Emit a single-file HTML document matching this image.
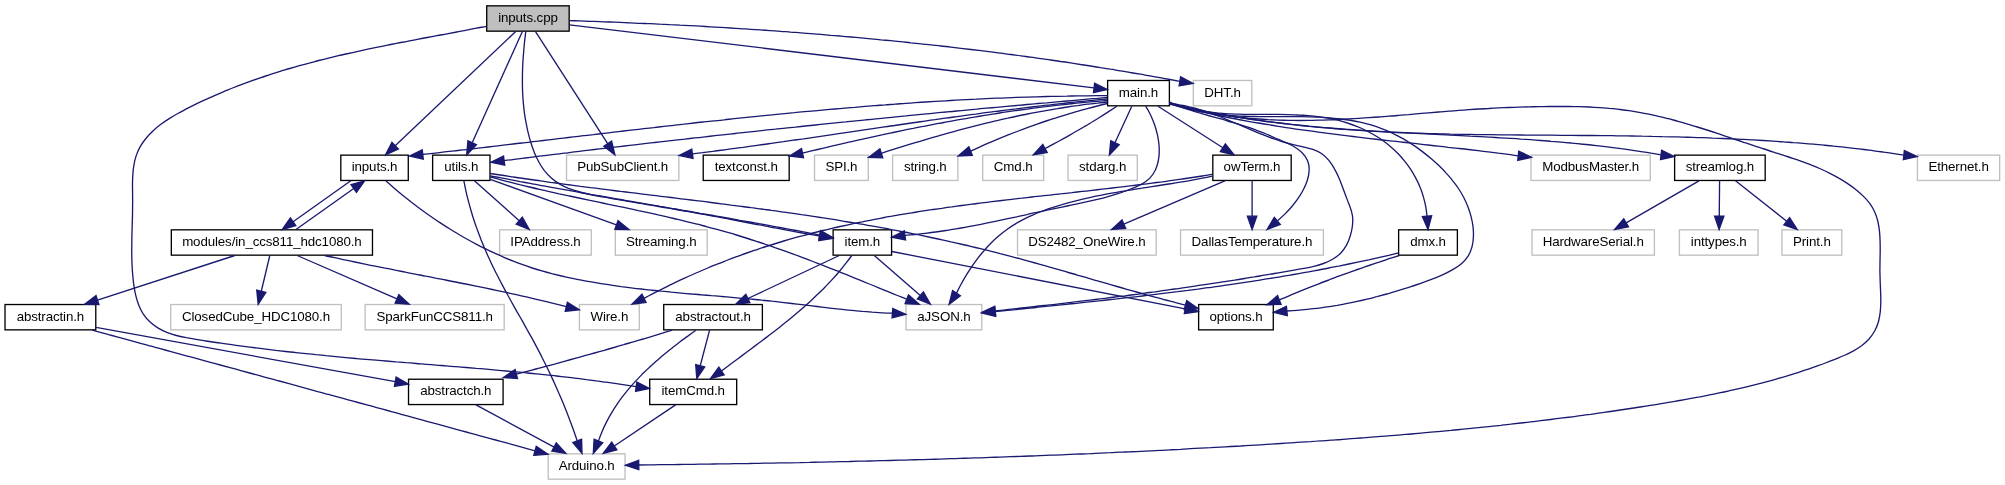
<!DOCTYPE html>
<html><head><meta charset="utf-8"><title>inputs.cpp</title>
<style>html,body{margin:0;padding:0;background:#fff}svg{display:block;will-change:transform}text{font-family:"Liberation Sans",Helvetica,Arial,sans-serif;font-size:13.33px;fill:#000;text-anchor:middle;letter-spacing:-0.12px}.e{fill:none;stroke:#191970;stroke-width:1.33}.a{fill:#191970;stroke:#191970;stroke-width:1.33}.n{stroke-width:1.33}</style></head>
<body>
<svg width="2005" height="485" viewBox="0 0 2005 485">
<rect width="2005" height="485" fill="#fff"/>
<rect class="n" x="486.72" y="5.83" width="82.46" height="25.33" fill="#bfbfbf" stroke="#000"/>
<text x="527.95" y="22.00">inputs.cpp</text>
<rect class="n" x="1107.62" y="80.48" width="61.76" height="25.33" fill="#fff" stroke="#000"/>
<text x="1138.50" y="96.65">main.h</text>
<rect class="n" x="1193.32" y="80.48" width="58.46" height="25.33" fill="#fff" stroke="#bfbfbf"/>
<text x="1222.55" y="96.65">DHT.h</text>
<rect class="n" x="340.82" y="155.13" width="67.46" height="25.33" fill="#fff" stroke="#000"/>
<text x="374.55" y="171.30">inputs.h</text>
<rect class="n" x="432.62" y="155.13" width="57.36" height="25.33" fill="#fff" stroke="#000"/>
<text x="461.30" y="171.30">utils.h</text>
<rect class="n" x="566.52" y="155.13" width="112.36" height="25.33" fill="#fff" stroke="#bfbfbf"/>
<text x="622.70" y="171.30">PubSubClient.h</text>
<rect class="n" x="703.22" y="155.13" width="85.96" height="25.33" fill="#fff" stroke="#000"/>
<text x="746.20" y="171.30">textconst.h</text>
<rect class="n" x="814.52" y="155.13" width="53.76" height="25.33" fill="#fff" stroke="#bfbfbf"/>
<text x="841.40" y="171.30">SPI.h</text>
<rect class="n" x="892.62" y="155.13" width="65.26" height="25.33" fill="#fff" stroke="#bfbfbf"/>
<text x="925.25" y="171.30">string.h</text>
<rect class="n" x="982.72" y="155.13" width="60.96" height="25.33" fill="#fff" stroke="#bfbfbf"/>
<text x="1013.20" y="171.30">Cmd.h</text>
<rect class="n" x="1068.02" y="155.13" width="69.26" height="25.33" fill="#fff" stroke="#bfbfbf"/>
<text x="1102.65" y="171.30">stdarg.h</text>
<rect class="n" x="1212.82" y="155.13" width="78.36" height="25.33" fill="#fff" stroke="#000"/>
<text x="1252.00" y="171.30">owTerm.h</text>
<rect class="n" x="1531.02" y="155.13" width="119.26" height="25.33" fill="#fff" stroke="#bfbfbf"/>
<text x="1590.65" y="171.30">ModbusMaster.h</text>
<rect class="n" x="1674.62" y="155.13" width="90.56" height="25.33" fill="#fff" stroke="#000"/>
<text x="1719.90" y="171.30">streamlog.h</text>
<rect class="n" x="1917.42" y="155.13" width="82.26" height="25.33" fill="#fff" stroke="#bfbfbf"/>
<text x="1958.55" y="171.30">Ethernet.h</text>
<rect class="n" x="171.32" y="229.83" width="201.16" height="25.33" fill="#fff" stroke="#000"/>
<text x="271.90" y="246.00">modules/in_ccs811_hdc1080.h</text>
<rect class="n" x="499.62" y="229.83" width="91.66" height="25.33" fill="#fff" stroke="#bfbfbf"/>
<text x="545.45" y="246.00">IPAddress.h</text>
<rect class="n" x="615.32" y="229.83" width="91.86" height="25.33" fill="#fff" stroke="#bfbfbf"/>
<text x="661.25" y="246.00">Streaming.h</text>
<rect class="n" x="833.12" y="229.83" width="58.46" height="25.33" fill="#fff" stroke="#000"/>
<text x="862.35" y="246.00">item.h</text>
<rect class="n" x="1017.52" y="229.83" width="138.66" height="25.33" fill="#fff" stroke="#bfbfbf"/>
<text x="1086.85" y="246.00">DS2482_OneWire.h</text>
<rect class="n" x="1180.52" y="229.83" width="142.86" height="25.33" fill="#fff" stroke="#bfbfbf"/>
<text x="1251.95" y="246.00">DallasTemperature.h</text>
<rect class="n" x="1398.62" y="229.83" width="58.76" height="25.33" fill="#fff" stroke="#000"/>
<text x="1428.00" y="246.00">dmx.h</text>
<rect class="n" x="1532.02" y="229.83" width="122.36" height="25.33" fill="#fff" stroke="#bfbfbf"/>
<text x="1593.20" y="246.00">HardwareSerial.h</text>
<rect class="n" x="1679.42" y="229.83" width="78.66" height="25.33" fill="#fff" stroke="#bfbfbf"/>
<text x="1718.75" y="246.00">inttypes.h</text>
<rect class="n" x="1781.92" y="229.83" width="59.86" height="25.33" fill="#fff" stroke="#bfbfbf"/>
<text x="1811.85" y="246.00">Print.h</text>
<rect class="n" x="5.02" y="304.53" width="90.76" height="25.33" fill="#fff" stroke="#000"/>
<text x="50.40" y="320.70">abstractin.h</text>
<rect class="n" x="170.72" y="304.53" width="170.56" height="25.33" fill="#fff" stroke="#bfbfbf"/>
<text x="256.00" y="320.70">ClosedCube_HDC1080.h</text>
<rect class="n" x="365.12" y="304.53" width="139.06" height="25.33" fill="#fff" stroke="#bfbfbf"/>
<text x="434.65" y="320.70">SparkFunCCS811.h</text>
<rect class="n" x="579.42" y="304.53" width="59.86" height="25.33" fill="#fff" stroke="#bfbfbf"/>
<text x="609.35" y="320.70">Wire.h</text>
<rect class="n" x="663.72" y="304.53" width="98.66" height="25.33" fill="#fff" stroke="#000"/>
<text x="713.05" y="320.70">abstractout.h</text>
<rect class="n" x="906.02" y="304.53" width="75.76" height="25.33" fill="#fff" stroke="#bfbfbf"/>
<text x="943.90" y="320.70">aJSON.h</text>
<rect class="n" x="1198.62" y="304.53" width="74.66" height="25.33" fill="#fff" stroke="#000"/>
<text x="1235.95" y="320.70">options.h</text>
<rect class="n" x="408.52" y="379.23" width="94.56" height="25.33" fill="#fff" stroke="#000"/>
<text x="455.80" y="395.40">abstractch.h</text>
<rect class="n" x="649.72" y="379.23" width="86.96" height="25.33" fill="#fff" stroke="#000"/>
<text x="693.20" y="395.40">itemCmd.h</text>
<rect class="n" x="548.22" y="453.83" width="76.86" height="25.33" fill="#fff" stroke="#bfbfbf"/>
<text x="586.65" y="470.00">Arduino.h</text>
<path class="e" d="M516.00,31.20L395.18,145.73"/>
<polygon class="a" points="391.97,142.34 385.50,154.90 398.39,149.11"/>
<path class="e" d="M522.50,31.20L472.18,142.75"/>
<polygon class="a" points="467.93,140.83 466.70,154.90 476.44,144.66"/>
<path class="e" d="M535.20,31.20L607.68,143.69"/>
<polygon class="a" points="603.76,146.22 614.90,154.90 611.60,141.16"/>
<path class="e" d="M525.8,31.2C525.4,34.6 525.0,38.0 524.6,41.4C524.3,44.7 523.9,48.1 523.7,51.5C523.4,54.9 523.1,58.3 522.9,61.8C522.7,65.2 522.6,68.6 522.5,72.0C522.4,75.4 522.4,78.8 522.4,82.2C522.4,85.6 522.5,89.0 522.6,92.4C522.8,95.8 523.0,99.2 523.3,102.6C523.6,106.0 524.0,109.4 524.4,112.8C524.9,116.2 525.4,119.6 526.1,122.9C526.7,126.3 527.4,129.6 528.2,132.9C529.0,136.2 529.9,139.5 530.9,142.8C531.9,146.1 533.1,149.3 534.3,152.4C535.6,155.6 537.1,158.7 538.7,161.7C540.3,164.7 542.2,167.6 544.2,170.3C546.3,173.0 548.5,175.6 551.1,177.8C553.6,180.1 556.3,182.1 559.3,183.8C562.2,185.5 565.3,187.0 568.5,188.3C571.7,189.5 574.9,190.6 578.2,191.5C581.5,192.4 584.8,193.2 588.2,194.0C591.5,194.7 594.9,195.4 598.2,196.0C601.6,196.6 604.9,197.3 608.3,197.9C611.6,198.5 615.0,199.1 618.3,199.7C621.7,200.3 625.1,200.9 628.4,201.4C631.8,202.0 635.2,202.6 638.5,203.2C641.9,203.7 645.2,204.3 648.6,204.9C652.0,205.4 655.3,206.0 658.7,206.5C662.0,207.1 665.4,207.7 668.8,208.2C672.1,208.8 675.5,209.4 678.9,210.0C682.2,210.5 685.6,211.1 688.9,211.7C692.3,212.3 695.6,212.9 699.0,213.5C702.4,214.1 705.7,214.7 709.1,215.3C712.4,216.0 715.8,216.6 719.1,217.2C722.5,217.8 725.8,218.5 729.2,219.1C732.5,219.8 735.9,220.4 739.2,221.0C742.6,221.7 745.9,222.3 749.3,223.0C752.6,223.6 756.0,224.2 759.3,224.9C762.7,225.5 766.0,226.2 769.4,226.8C772.7,227.5 776.1,228.1 779.4,228.7C782.8,229.4 786.1,230.0 789.5,230.6C792.8,231.2 796.2,231.9 799.5,232.5C802.9,233.1 806.3,233.7 809.6,234.3C813.0,234.9 816.3,235.5 819.7,236.1"/>
<polygon class="a" points="818.84,240.68 832.80,238.50 820.53,231.50"/>
<path class="e" d="M569.50,24.80L1094.06,87.91"/>
<polygon class="a" points="1093.50,92.54 1107.30,89.50 1094.62,83.27"/>
<path class="e" d="M569.5,20.6C572.9,20.7 576.2,20.8 579.6,20.9C582.9,21.0 586.3,21.2 589.6,21.3C593.0,21.4 596.3,21.5 599.7,21.6C603.0,21.8 606.4,21.9 609.7,22.0C613.1,22.1 616.4,22.3 619.8,22.4C623.1,22.5 626.5,22.7 629.8,22.8C633.2,23.0 636.6,23.1 639.9,23.3C643.3,23.4 646.6,23.6 650.0,23.7C653.3,23.9 656.7,24.0 660.0,24.2C663.4,24.3 666.7,24.5 670.1,24.7C673.4,24.8 676.8,25.0 680.1,25.2C683.5,25.3 686.8,25.5 690.2,25.7C693.5,25.9 696.9,26.1 700.2,26.2C703.6,26.4 706.9,26.6 710.3,26.8C713.6,27.0 717.0,27.2 720.3,27.4C723.7,27.6 727.0,27.8 730.4,28.0C733.7,28.2 737.1,28.4 740.4,28.6C743.8,28.8 747.1,29.1 750.5,29.3C753.8,29.5 757.1,29.7 760.5,29.9C763.8,30.2 767.2,30.4 770.5,30.6C773.9,30.9 777.2,31.1 780.6,31.3C783.9,31.6 787.3,31.8 790.6,32.1C794.0,32.3 797.3,32.6 800.7,32.8C804.0,33.1 807.3,33.4 810.7,33.6C814.0,33.9 817.4,34.2 820.7,34.4C824.1,34.7 827.4,35.0 830.7,35.3C834.1,35.5 837.4,35.8 840.8,36.1C844.1,36.4 847.5,36.7 850.8,37.0C854.1,37.3 857.5,37.6 860.8,37.9C864.2,38.2 867.5,38.5 870.9,38.8C874.2,39.1 877.5,39.4 880.9,39.8C884.2,40.1 887.6,40.4 890.9,40.7C894.2,41.1 897.6,41.4 900.9,41.7C904.2,42.1 907.6,42.4 910.9,42.8C914.3,43.1 917.6,43.5 920.9,43.8C924.3,44.2 927.6,44.5 930.9,44.9C934.3,45.3 937.6,45.6 940.9,46.0C944.3,46.4 947.6,46.7 950.9,47.1C954.3,47.5 957.6,47.9 960.9,48.3C964.3,48.7 967.6,49.1 970.9,49.5C974.3,49.9 977.6,50.3 980.9,50.7C984.3,51.1 987.6,51.5 990.9,51.9C994.2,52.4 997.6,52.8 1000.9,53.2C1004.2,53.6 1007.5,54.1 1010.9,54.5C1014.2,54.9 1017.5,55.4 1020.9,55.8C1024.2,56.3 1027.5,56.7 1030.8,57.2C1034.1,57.7 1037.5,58.1 1040.8,58.6C1044.1,59.1 1047.4,59.5 1050.8,60.0C1054.1,60.5 1057.4,61.0 1060.7,61.5C1064.0,61.9 1067.4,62.4 1070.7,62.9C1074.0,63.4 1077.3,63.9 1080.6,64.5C1083.9,65.0 1087.3,65.5 1090.6,66.0C1093.9,66.5 1097.2,67.0 1100.5,67.6C1103.8,68.1 1107.1,68.6 1110.4,69.2C1113.8,69.7 1117.1,70.3 1120.4,70.8C1123.7,71.4 1127.0,71.9 1130.3,72.5C1133.6,73.0 1136.9,73.6 1140.2,74.2C1143.5,74.8 1146.8,75.3 1150.1,75.9C1153.4,76.5 1156.7,77.1 1160.0,77.7C1163.3,78.3 1166.6,78.9 1169.9,79.5C1173.2,80.1 1176.5,80.7 1179.8,81.3"/>
<polygon class="a" points="1179.08,85.93 1193.00,83.50 1180.61,76.72"/>
<path class="e" d="M486.4,26.3C483.1,26.9 479.8,27.6 476.5,28.2C473.2,28.9 469.9,29.5 466.6,30.1C463.3,30.7 460.0,31.4 456.8,32.0C453.5,32.6 450.2,33.2 446.9,33.8C443.6,34.4 440.3,35.1 437.0,35.7C433.7,36.3 430.4,36.9 427.1,37.5C423.8,38.2 420.5,38.8 417.2,39.4C413.9,40.0 410.6,40.7 407.3,41.3C404.0,41.9 400.7,42.6 397.4,43.2C394.1,43.8 390.8,44.5 387.6,45.1C384.3,45.8 381.0,46.5 377.7,47.1C374.4,47.8 371.1,48.5 367.8,49.2C364.6,49.9 361.3,50.6 358.0,51.3C354.7,52.0 351.5,52.7 348.2,53.5C344.9,54.2 341.6,55.0 338.4,55.7C335.1,56.5 331.8,57.3 328.6,58.1C325.3,58.9 322.1,59.7 318.8,60.5C315.6,61.4 312.3,62.2 309.1,63.1C305.9,63.9 302.6,64.8 299.4,65.7C296.2,66.6 292.9,67.6 289.7,68.5C286.5,69.5 283.3,70.4 280.1,71.4C276.9,72.4 273.7,73.4 270.5,74.4C267.3,75.5 264.1,76.5 260.9,77.6C257.8,78.7 254.6,79.8 251.4,80.9C248.3,82.1 245.1,83.2 242.0,84.4C238.9,85.6 235.7,86.8 232.6,88.0C229.5,89.3 226.4,90.5 223.3,91.8C220.2,93.1 217.1,94.4 214.0,95.8C211.0,97.1 207.9,98.5 204.9,99.9C201.8,101.3 198.8,102.8 195.8,104.2C192.8,105.7 189.8,107.2 186.8,108.7C183.8,110.3 180.8,111.8 177.9,113.5C174.9,115.1 172.0,116.8 169.2,118.6C166.4,120.4 163.6,122.3 160.9,124.3C158.2,126.3 155.6,128.4 153.2,130.7C150.7,133.0 148.4,135.4 146.3,138.0C144.1,140.6 142.2,143.3 140.5,146.2C138.8,149.1 137.4,152.2 136.3,155.4C135.2,158.5 134.5,161.8 133.9,165.1C133.3,168.4 133.0,171.7 132.8,175.1C132.6,178.4 132.5,181.8 132.5,185.2C132.5,188.5 132.6,191.9 132.6,195.2C132.6,198.6 132.7,202.0 132.6,205.3C132.6,208.7 132.5,212.0 132.5,215.4C132.4,218.7 132.3,222.1 132.2,225.4C132.1,228.8 132.0,232.1 131.9,235.5C131.9,238.8 131.8,242.2 131.8,245.5C131.7,248.9 131.7,252.2 131.8,255.6C131.8,258.9 131.9,262.3 132.1,265.7C132.2,269.0 132.5,272.3 132.8,275.7C133.1,279.0 133.4,282.4 133.9,285.7C134.4,289.0 135.0,292.3 135.8,295.6C136.6,298.9 137.6,302.1 138.8,305.2C140.0,308.3 141.5,311.3 143.3,314.1C145.2,316.9 147.3,319.5 149.8,321.8C152.2,324.1 154.9,326.1 157.8,327.9C160.6,329.6 163.7,331.1 166.8,332.3C169.9,333.5 173.1,334.6 176.4,335.5C179.6,336.3 182.9,337.0 186.2,337.7C189.5,338.3 192.8,338.9 196.1,339.4C199.4,340.0 202.8,340.5 206.0,341.0C209.4,341.5 212.7,342.0 216.0,342.5C219.3,343.0 222.7,343.4 226.0,343.9C229.3,344.4 232.6,344.9 235.9,345.3C239.3,345.8 242.6,346.2 245.9,346.6C249.2,347.1 252.6,347.5 255.9,347.9C259.2,348.4 262.5,348.8 265.9,349.2C269.2,349.6 272.5,350.0 275.8,350.4C279.2,350.7 282.5,351.1 285.8,351.5C289.2,351.9 292.5,352.2 295.8,352.6C299.2,353.0 302.5,353.3 305.9,353.7C309.2,354.0 312.5,354.3 315.9,354.7C319.2,355.0 322.5,355.3 325.9,355.7C329.2,356.0 332.6,356.3 335.9,356.6C339.2,356.9 342.6,357.3 345.9,357.6C349.3,357.9 352.6,358.2 355.9,358.5C359.3,358.8 362.6,359.1 366.0,359.3C369.3,359.6 372.6,359.9 376.0,360.2C379.3,360.5 382.7,360.8 386.0,361.0C389.4,361.3 392.7,361.6 396.0,361.9C399.4,362.1 402.7,362.4 406.1,362.7C409.4,362.9 412.8,363.2 416.1,363.5C419.4,363.8 422.8,364.0 426.1,364.3C429.5,364.6 432.8,364.8 436.2,365.1C439.5,365.4 442.8,365.6 446.2,365.9C449.5,366.2 452.9,366.4 456.2,366.7C459.6,367.0 462.9,367.2 466.3,367.5C469.6,367.8 472.9,368.1 476.3,368.4C479.6,368.6 483.0,368.9 486.3,369.2C489.6,369.5 493.0,369.8 496.3,370.1C499.7,370.4 503.0,370.7 506.4,371.0C509.7,371.3 513.0,371.6 516.4,371.9C519.7,372.2 523.0,372.5 526.4,372.9C529.7,373.2 533.1,373.5 536.4,373.9C539.7,374.2 543.1,374.6 546.4,374.9C549.7,375.3 553.1,375.6 556.4,376.0C559.7,376.4 563.1,376.7 566.4,377.1C569.7,377.5 573.1,377.9 576.4,378.3C579.7,378.7 583.1,379.1 586.4,379.6C589.7,380.0 593.0,380.4 596.4,380.9C599.7,381.3 603.0,381.8 606.3,382.2C609.7,382.7 613.0,383.2 616.3,383.7C619.6,384.2 622.9,384.7 626.2,385.2C629.6,385.7 632.9,386.2 636.2,386.7"/>
<polygon class="a" points="635.57,391.36 649.40,388.50 636.80,382.11"/>
<path class="e" d="M350.80,180.80L293.07,221.78"/>
<polygon class="a" points="290.37,217.98 282.20,229.50 295.77,225.59"/>
<path class="e" d="M296.00,229.50L353.73,188.52"/>
<polygon class="a" points="356.43,192.32 364.60,180.80 351.03,184.71"/>
<path class="e" d="M385.8,180.8C388.3,183.0 390.8,185.3 393.4,187.5C395.9,189.7 398.5,191.8 401.1,194.0C403.7,196.1 406.3,198.2 409.0,200.3C411.6,202.4 414.3,204.4 417.0,206.5C419.7,208.5 422.4,210.5 425.1,212.5C427.8,214.4 430.6,216.4 433.4,218.3C436.1,220.2 438.9,222.0 441.8,223.9C444.6,225.7 447.4,227.5 450.3,229.3C453.1,231.1 456.0,232.8 458.9,234.5C461.8,236.2 464.7,237.9 467.7,239.5C470.6,241.2 473.6,242.8 476.6,244.3C479.6,245.9 482.6,247.4 485.6,248.9C488.6,250.4 491.6,251.8 494.7,253.2C497.8,254.6 500.8,256.0 503.9,257.3C507.0,258.6 510.1,259.9 513.3,261.1C516.4,262.4 519.6,263.6 522.7,264.7C525.9,265.8 529.1,266.9 532.3,268.0C535.5,269.0 538.7,270.0 541.9,270.9C545.2,271.8 548.4,272.7 551.7,273.6C554.9,274.4 558.2,275.2 561.5,276.0C564.8,276.7 568.1,277.5 571.3,278.1C574.6,278.8 577.9,279.5 581.3,280.1C584.6,280.8 587.9,281.4 591.2,281.9C594.5,282.5 597.8,283.1 601.1,283.6C604.5,284.1 607.8,284.7 611.1,285.1C614.5,285.6 617.8,286.1 621.1,286.6C624.5,287.0 627.8,287.4 631.1,287.8C634.5,288.3 637.8,288.7 641.2,289.0C644.5,289.4 647.9,289.8 651.2,290.2C654.5,290.5 657.9,290.8 661.2,291.2C664.6,291.5 667.9,291.8 671.3,292.2C674.6,292.5 678.0,292.8 681.4,293.1C684.7,293.4 688.1,293.7 691.4,294.0C694.8,294.2 698.1,294.5 701.5,294.8C704.8,295.1 708.2,295.4 711.5,295.7C714.9,295.9 718.2,296.2 721.6,296.5C725.0,296.8 728.3,297.1 731.7,297.4C735.0,297.7 738.4,298.0 741.7,298.3C745.1,298.6 748.4,298.9 751.8,299.2C755.1,299.5 758.5,299.8 761.8,300.2C765.2,300.5 768.5,300.8 771.9,301.2C775.2,301.5 778.6,301.9 781.9,302.3C785.3,302.7 788.6,303.1 791.9,303.5C795.3,303.9 798.6,304.3 802.0,304.7C805.3,305.1 808.6,305.5 812.0,305.9C815.3,306.3 818.7,306.7 822.0,307.1C825.4,307.5 828.7,307.9 832.0,308.3C835.4,308.7 838.7,309.0 842.1,309.4C845.4,309.8 848.8,310.1 852.1,310.4C855.5,310.8 858.8,311.1 862.2,311.4C865.5,311.6 868.9,311.9 872.2,312.2C875.6,312.4 879.0,312.6 882.3,312.8C885.7,313.0 889.0,313.1 892.4,313.2"/>
<polygon class="a" points="892.04,317.89 905.70,314.30 892.78,308.59"/>
<path class="e" d="M234.80,255.50L97.48,300.08"/>
<polygon class="a" points="96.04,295.64 84.80,304.20 98.92,304.52"/>
<path class="e" d="M269.80,255.50L261.29,291.23"/>
<polygon class="a" points="256.75,290.15 258.20,304.20 265.83,292.31"/>
<path class="e" d="M297.20,255.50L396.97,298.88"/>
<polygon class="a" points="395.11,303.16 409.20,304.20 398.83,294.60"/>
<path class="e" d="M324.7,255.5C328.0,256.3 331.4,257.0 334.8,257.7C338.1,258.5 341.5,259.2 344.8,259.9C348.2,260.6 351.5,261.3 354.9,262.0C358.2,262.7 361.6,263.4 365.0,264.1C368.3,264.8 371.7,265.5 375.1,266.1C378.4,266.8 381.8,267.5 385.1,268.2C388.5,268.8 391.9,269.5 395.2,270.2C398.6,270.8 402.0,271.5 405.3,272.1C408.7,272.8 412.1,273.5 415.4,274.1C418.8,274.8 422.2,275.4 425.5,276.1C428.9,276.7 432.3,277.4 435.6,278.1C439.0,278.7 442.4,279.4 445.7,280.0C449.1,280.7 452.5,281.4 455.8,282.0C459.2,282.7 462.6,283.4 465.9,284.0C469.3,284.7 472.7,285.4 476.0,286.1C479.4,286.8 482.8,287.5 486.1,288.2C489.5,288.9 492.8,289.6 496.2,290.3C499.5,291.0 502.9,291.7 506.2,292.4C509.6,293.2 512.9,293.9 516.3,294.7C519.6,295.4 523.0,296.2 526.3,296.9C529.7,297.7 533.0,298.5 536.4,299.3C539.7,300.1 543.0,300.9 546.4,301.7C549.7,302.5 553.0,303.3 556.4,304.2C559.7,305.0 563.0,305.9 566.3,306.7"/>
<polygon class="a" points="565.25,311.28 579.30,309.80 567.39,302.20"/>
<path class="e" d="M96.10,327.40L395.28,381.72"/>
<polygon class="a" points="394.45,386.31 408.40,384.10 396.11,377.13"/>
<path class="e" d="M92.3,330.2C95.6,331.1 98.9,332.0 102.1,332.9C105.4,333.8 108.7,334.7 112.0,335.5C115.3,336.4 118.5,337.3 121.8,338.2C125.1,339.1 128.4,340.0 131.7,340.9C134.9,341.8 138.2,342.7 141.5,343.6C144.8,344.5 148.1,345.4 151.3,346.2C154.6,347.1 157.9,348.0 161.2,348.9C164.5,349.8 167.7,350.7 171.0,351.6C174.3,352.5 177.6,353.4 180.9,354.3C184.1,355.2 187.4,356.1 190.7,356.9C194.0,357.8 197.3,358.7 200.5,359.6C203.8,360.5 207.1,361.4 210.4,362.3C213.7,363.2 216.9,364.1 220.2,365.0C223.5,365.9 226.8,366.8 230.1,367.7C233.3,368.5 236.6,369.4 239.9,370.3C243.2,371.2 246.5,372.1 249.7,373.0C253.0,373.9 256.3,374.8 259.6,375.7C262.9,376.6 266.1,377.5 269.4,378.4C272.7,379.3 276.0,380.2 279.3,381.0C282.5,381.9 285.8,382.8 289.1,383.7C292.4,384.6 295.7,385.5 298.9,386.4C302.2,387.3 305.5,388.2 308.8,389.1C312.0,390.0 315.3,390.9 318.6,391.8C321.9,392.7 325.2,393.6 328.4,394.4C331.7,395.3 335.0,396.2 338.3,397.1C341.6,398.0 344.8,398.9 348.1,399.8C351.4,400.7 354.7,401.6 358.0,402.5C361.2,403.4 364.5,404.3 367.8,405.2C371.1,406.1 374.4,407.0 377.6,407.8C380.9,408.7 384.2,409.6 387.5,410.5C390.8,411.4 394.0,412.3 397.3,413.2C400.6,414.1 403.9,415.0 407.2,415.9C410.4,416.8 413.7,417.7 417.0,418.6C420.3,419.5 423.5,420.4 426.8,421.3C430.1,422.2 433.4,423.0 436.7,423.9C439.9,424.8 443.2,425.7 446.5,426.6C449.8,427.5 453.1,428.4 456.3,429.3C459.6,430.2 462.9,431.1 466.2,432.0C469.5,432.9 472.7,433.8 476.0,434.7C479.3,435.6 482.6,436.5 485.9,437.4C489.1,438.3 492.4,439.2 495.7,440.0C499.0,440.9 502.2,441.8 505.5,442.7C508.8,443.6 512.1,444.5 515.4,445.4C518.6,446.3 521.9,447.2 525.2,448.1C528.5,449.0 531.8,449.9 535.0,450.8"/>
<polygon class="a" points="533.81,455.29 547.90,454.30 536.27,446.29"/>
<path class="e" d="M476.00,404.90L554.07,447.06"/>
<polygon class="a" points="551.85,451.17 565.80,453.40 556.29,442.96"/>
<path class="e" d="M839.30,255.50L747.86,298.52"/>
<polygon class="a" points="745.88,294.30 735.80,304.20 749.85,302.75"/>
<path class="e" d="M851.8,255.5C849.8,258.3 847.7,261.0 845.6,263.7C843.5,266.4 841.3,269.1 839.1,271.7C836.9,274.3 834.6,276.9 832.3,279.4C830.0,281.9 827.6,284.4 825.2,286.9C822.8,289.3 820.4,291.7 817.9,294.1C815.5,296.5 813.0,298.8 810.4,301.2C807.9,303.5 805.3,305.8 802.8,308.0C800.2,310.3 797.6,312.5 794.9,314.7C792.3,316.9 789.7,319.1 787.0,321.3C784.3,323.4 781.7,325.5 779.0,327.7C776.3,329.8 773.6,331.9 770.8,334.0C768.1,336.1 765.4,338.1 762.7,340.2C759.9,342.3 757.2,344.3 754.4,346.4C751.7,348.4 748.9,350.5 746.2,352.5C743.4,354.6 740.7,356.6 737.9,358.7C735.2,360.7 732.4,362.8 729.7,364.8C726.9,366.9 724.2,369.0 721.5,371.0"/>
<polygon class="a" points="718.83,367.19 710.50,378.60 724.13,374.88"/>
<path class="e" d="M874.30,255.50L920.33,295.46"/>
<polygon class="a" points="917.27,298.98 930.40,304.20 923.39,291.94"/>
<path class="e" d="M891.90,251.50L1185.22,308.94"/>
<polygon class="a" points="1184.32,313.52 1198.30,311.50 1186.11,304.36"/>
<path class="e" d="M672.2,330.2C669.0,331.2 665.7,332.2 662.5,333.1C659.3,334.1 656.1,335.1 652.8,336.1C649.6,337.0 646.4,338.0 643.1,339.0C639.9,339.9 636.6,340.9 633.4,341.8C630.2,342.8 626.9,343.7 623.7,344.7C620.4,345.6 617.2,346.5 614.0,347.5C610.7,348.4 607.5,349.3 604.2,350.3C601.0,351.2 597.7,352.1 594.5,353.0C591.2,353.9 588.0,354.8 584.7,355.7C581.5,356.6 578.2,357.5 575.0,358.4C571.7,359.3 568.5,360.2 565.2,361.1C562.0,362.0 558.7,362.9 555.4,363.8C552.2,364.6 548.9,365.5 545.7,366.4C542.4,367.3 539.1,368.1 535.9,369.0C532.6,369.9 529.4,370.7 526.1,371.6C522.8,372.4 519.6,373.3 516.3,374.1"/>
<polygon class="a" points="515.10,369.59 503.40,377.50 517.48,378.61"/>
<path class="e" d="M695.9,330.2C693.2,332.1 690.5,334.1 687.8,336.1C685.1,338.0 682.4,340.0 679.7,342.0C677.1,344.0 674.5,346.1 671.8,348.2C669.2,350.2 666.6,352.3 664.0,354.4C661.5,356.6 658.9,358.7 656.4,360.9C653.9,363.1 651.4,365.4 649.0,367.7C646.6,369.9 644.2,372.3 641.8,374.6C639.5,377.0 637.2,379.4 634.9,381.9C632.7,384.3 630.5,386.8 628.3,389.4C626.2,392.0 624.1,394.6 622.1,397.2C620.1,399.9 618.1,402.6 616.3,405.4C614.4,408.2 612.7,411.0 611.0,413.9C609.3,416.7 607.7,419.7 606.2,422.6C604.7,425.6 603.3,428.6 602.0,431.7C600.7,434.8 599.5,437.9 598.4,441.1"/>
<polygon class="a" points="594.10,439.30 593.30,453.40 602.72,442.87"/>
<path class="e" d="M709.60,330.20L700.21,365.71"/>
<polygon class="a" points="695.70,364.52 696.80,378.60 704.72,366.90"/>
<path class="e" d="M675.60,404.90L614.28,445.98"/>
<polygon class="a" points="611.68,442.10 603.20,453.40 616.87,449.86"/>
<path class="e" d="M463.9,180.8C464.5,184.1 465.2,187.5 465.9,190.8C466.6,194.1 467.4,197.4 468.3,200.7C469.1,204.0 470.0,207.2 471.0,210.5C471.9,213.7 472.9,217.0 474.0,220.2C475.0,223.4 476.2,226.6 477.3,229.8C478.5,233.0 479.7,236.2 480.9,239.3C482.2,242.5 483.4,245.6 484.8,248.7C486.1,251.8 487.5,255.0 488.9,258.0C490.3,261.1 491.7,264.2 493.2,267.2C494.7,270.3 496.2,273.3 497.8,276.3C499.3,279.4 500.9,282.4 502.5,285.4C504.1,288.4 505.7,291.3 507.3,294.3C508.9,297.3 510.6,300.2 512.2,303.2C513.9,306.2 515.6,309.1 517.2,312.1C518.9,315.0 520.6,318.0 522.3,320.9C523.9,323.9 525.6,326.8 527.2,329.8C528.9,332.7 530.5,335.7 532.2,338.7C533.8,341.7 535.4,344.6 537.0,347.6C538.6,350.6 540.1,353.6 541.7,356.7C543.2,359.7 544.7,362.7 546.2,365.8C547.7,368.8 549.2,371.9 550.6,374.9C552.1,378.0 553.5,381.1 554.9,384.2C556.3,387.3 557.7,390.4 559.0,393.5C560.4,396.6 561.7,399.7 563.0,402.8C564.3,406.0 565.5,409.1 566.8,412.3C568.0,415.4 569.2,418.6 570.4,421.8C571.6,425.0 572.8,428.1 573.9,431.3C575.0,434.5 576.2,437.7 577.2,440.9"/>
<polygon class="a" points="572.88,442.62 582.00,453.40 581.59,439.28"/>
<path class="e" d="M474.40,180.80L519.23,220.64"/>
<polygon class="a" points="516.13,224.13 529.20,229.50 522.33,217.15"/>
<path class="e" d="M490.30,179.40L616.46,224.97"/>
<polygon class="a" points="614.87,229.36 629.00,229.50 618.05,220.58"/>
<path class="e" d="M490.3,175.8C493.6,176.5 496.9,177.1 500.3,177.7C503.6,178.4 506.9,179.0 510.2,179.7C513.5,180.3 516.9,180.9 520.2,181.6C523.5,182.2 526.8,182.8 530.1,183.4C533.5,184.0 536.8,184.7 540.1,185.3C543.4,185.9 546.8,186.5 550.1,187.1C553.4,187.7 556.7,188.3 560.1,188.9C563.4,189.5 566.7,190.1 570.1,190.7C573.4,191.3 576.7,191.9 580.0,192.5C583.4,193.1 586.7,193.7 590.0,194.3C593.4,194.8 596.7,195.4 600.0,196.0C603.3,196.6 606.7,197.2 610.0,197.7C613.3,198.3 616.7,198.9 620.0,199.5C623.3,200.1 626.7,200.6 630.0,201.2C633.3,201.8 636.7,202.4 640.0,202.9C643.3,203.5 646.7,204.1 650.0,204.6C653.3,205.2 656.6,205.8 660.0,206.4C663.3,206.9 666.6,207.5 670.0,208.1C673.3,208.7 676.6,209.2 680.0,209.8C683.3,210.4 686.6,210.9 690.0,211.5C693.3,212.1 696.6,212.7 700.0,213.3C703.3,213.8 706.6,214.4 710.0,215.0C713.3,215.6 716.6,216.1 719.9,216.7C723.3,217.3 726.6,217.9 729.9,218.5C733.3,219.1 736.6,219.7 739.9,220.3C743.2,220.8 746.6,221.4 749.9,222.0C753.2,222.6 756.6,223.2 759.9,223.8C763.2,224.4 766.5,225.0 769.9,225.6C773.2,226.2 776.5,226.9 779.8,227.5C783.2,228.1 786.5,228.7 789.8,229.3C793.1,229.9 796.5,230.6 799.8,231.2C803.1,231.8 806.4,232.5 809.7,233.1C813.1,233.7 816.4,234.4 819.7,235.0"/>
<polygon class="a" points="818.83,239.60 832.80,237.50 820.57,230.43"/>
<path class="e" d="M490.3,177.0C493.6,177.9 496.8,178.8 500.1,179.6C503.3,180.5 506.6,181.4 509.9,182.2C513.1,183.0 516.4,183.8 519.7,184.7C523.0,185.5 526.2,186.2 529.5,187.0C532.8,187.8 536.1,188.6 539.4,189.3C542.7,190.1 545.9,190.8 549.2,191.6C552.5,192.3 555.8,193.0 559.1,193.8C562.4,194.5 565.7,195.2 569.0,195.9C572.3,196.6 575.6,197.3 578.9,198.0C582.2,198.7 585.5,199.4 588.8,200.1C592.1,200.8 595.4,201.5 598.7,202.2C602.0,202.9 605.3,203.6 608.6,204.3C611.9,205.0 615.2,205.7 618.5,206.4C621.8,207.0 625.1,207.7 628.4,208.4C631.7,209.1 635.0,209.8 638.3,210.6C641.6,211.3 644.9,212.0 648.2,212.7C651.5,213.4 654.8,214.1 658.1,214.9C661.4,215.6 664.7,216.4 667.9,217.1C671.2,217.9 674.5,218.6 677.8,219.4C681.1,220.2 684.4,221.0 687.6,221.8C690.9,222.6 694.2,223.4 697.5,224.2C700.7,225.1 704.0,225.9 707.2,226.8C710.5,227.6 713.8,228.5 717.0,229.4C720.3,230.3 723.5,231.2 726.8,232.2C730.0,233.1 733.2,234.0 736.5,235.0C739.7,236.0 742.9,237.0 746.1,238.0C749.4,239.0 752.6,240.0 755.8,241.1C759.0,242.1 762.2,243.2 765.4,244.3C768.6,245.3 771.8,246.4 774.9,247.6C778.1,248.7 781.3,249.8 784.5,250.9C787.7,252.1 790.8,253.2 794.0,254.4C797.2,255.5 800.3,256.7 803.5,257.9C806.6,259.1 809.8,260.3 812.9,261.5C816.1,262.7 819.2,263.9 822.4,265.1C825.5,266.4 828.7,267.6 831.8,268.8C834.9,270.1 838.1,271.3 841.2,272.6C844.3,273.8 847.5,275.1 850.6,276.3C853.7,277.6 856.8,278.9 860.0,280.1C863.1,281.4 866.2,282.7 869.3,284.0C872.5,285.2 875.6,286.5 878.7,287.8C881.8,289.1 884.9,290.4 888.1,291.6C891.2,292.9 894.3,294.2 897.4,295.5C900.6,296.8 903.7,298.0 906.8,299.3"/>
<polygon class="a" points="905.08,303.65 919.20,304.20 908.51,294.97"/>
<path class="e" d="M490.3,173.5C493.6,174.0 497.0,174.5 500.3,175.0C503.6,175.6 507.0,176.1 510.3,176.6C513.7,177.1 517.0,177.5 520.3,178.0C523.7,178.5 527.0,179.0 530.4,179.5C533.7,180.0 537.0,180.4 540.4,180.9C543.7,181.4 547.1,181.8 550.4,182.3C553.8,182.7 557.1,183.2 560.4,183.6C563.8,184.1 567.1,184.5 570.5,185.0C573.8,185.4 577.2,185.8 580.5,186.3C583.9,186.7 587.2,187.1 590.6,187.6C593.9,188.0 597.3,188.4 600.6,188.8C604.0,189.3 607.3,189.7 610.7,190.1C614.0,190.5 617.4,190.9 620.7,191.4C624.1,191.8 627.4,192.2 630.8,192.6C634.1,193.0 637.5,193.4 640.8,193.8C644.2,194.3 647.5,194.7 650.9,195.1C654.2,195.5 657.6,195.9 660.9,196.3C664.3,196.7 667.6,197.1 671.0,197.5C674.3,197.9 677.7,198.4 681.0,198.8C684.4,199.2 687.7,199.6 691.1,200.0C694.4,200.4 697.8,200.8 701.1,201.2C704.5,201.7 707.8,202.1 711.1,202.5C714.5,202.9 717.8,203.3 721.2,203.8C724.5,204.2 727.9,204.6 731.2,205.1C734.6,205.5 737.9,205.9 741.3,206.4C744.6,206.8 748.0,207.2 751.3,207.7C754.7,208.1 758.0,208.6 761.4,209.0C764.7,209.5 768.0,209.9 771.4,210.4C774.7,210.8 778.1,211.3 781.4,211.8C784.8,212.3 788.1,212.7 791.4,213.2C794.8,213.7 798.1,214.2 801.5,214.7C804.8,215.1 808.1,215.6 811.5,216.1C814.8,216.7 818.2,217.2 821.5,217.7C824.8,218.2 828.2,218.7 831.5,219.2C834.8,219.8 838.2,220.3 841.5,220.8C844.8,221.4 848.1,221.9 851.5,222.5C854.8,223.1 858.1,223.6 861.5,224.2C864.8,224.8 868.1,225.3 871.4,225.9C874.8,226.5 878.1,227.1 881.4,227.7C884.7,228.3 888.0,228.9 891.4,229.6C894.7,230.2 898.0,230.8 901.3,231.5C904.6,232.1 907.9,232.7 911.2,233.4C914.5,234.1 917.9,234.7 921.2,235.4C924.5,236.1 927.8,236.8 931.1,237.5C934.4,238.2 937.7,238.9 941.0,239.6C944.3,240.3 947.6,241.0 950.9,241.8C954.2,242.5 957.5,243.2 960.7,244.0C964.0,244.7 967.3,245.5 970.6,246.3C973.9,247.1 977.2,247.9 980.5,248.6C983.7,249.4 987.0,250.3 990.3,251.1C993.6,251.9 996.8,252.7 1000.1,253.6C1003.4,254.4 1006.6,255.3 1009.9,256.1C1013.2,257.0 1016.4,257.9 1019.7,258.7C1022.9,259.6 1026.2,260.5 1029.4,261.4C1032.7,262.3 1035.9,263.2 1039.2,264.1C1042.4,265.0 1045.7,265.9 1048.9,266.9C1052.2,267.8 1055.4,268.7 1058.7,269.7C1061.9,270.6 1065.2,271.5 1068.4,272.5C1071.6,273.4 1074.9,274.3 1078.1,275.3C1081.4,276.2 1084.6,277.2 1087.9,278.1C1091.1,279.0 1094.3,280.0 1097.6,280.9C1100.8,281.9 1104.1,282.8 1107.3,283.7C1110.6,284.7 1113.8,285.6 1117.0,286.5C1120.3,287.5 1123.5,288.4 1126.8,289.3C1130.0,290.2 1133.3,291.1 1136.5,292.0C1139.8,293.0 1143.0,293.9 1146.3,294.8C1149.5,295.7 1152.8,296.5 1156.0,297.4C1159.3,298.3 1162.6,299.2 1165.8,300.0C1169.1,300.9 1172.4,301.7 1175.6,302.6C1178.9,303.4 1182.2,304.2 1185.4,305.1"/>
<polygon class="a" points="1184.21,309.55 1198.30,308.60 1186.69,300.55"/>
<path class="e" d="M1107.4,95.7C1104.0,95.7 1100.7,95.7 1097.3,95.7C1093.9,95.8 1090.5,95.8 1087.2,95.8C1083.8,95.8 1080.4,95.9 1077.1,95.9C1073.7,96.0 1070.3,96.0 1067.0,96.1C1063.6,96.1 1060.2,96.2 1056.8,96.3C1053.5,96.4 1050.1,96.4 1046.7,96.5C1043.4,96.6 1040.0,96.7 1036.6,96.8C1033.3,96.9 1029.9,97.0 1026.5,97.1C1023.2,97.2 1019.8,97.3 1016.4,97.4C1013.0,97.6 1009.7,97.7 1006.3,97.8C1002.9,98.0 999.6,98.1 996.2,98.2C992.8,98.4 989.5,98.5 986.1,98.7C982.7,98.8 979.4,99.0 976.0,99.2C972.6,99.3 969.3,99.5 965.9,99.7C962.5,99.9 959.2,100.0 955.8,100.2C952.4,100.4 949.1,100.6 945.7,100.8C942.4,101.0 939.0,101.2 935.6,101.4C932.3,101.6 928.9,101.8 925.5,102.0C922.2,102.3 918.8,102.5 915.4,102.7C912.1,102.9 908.7,103.2 905.4,103.4C902.0,103.6 898.6,103.9 895.3,104.1C891.9,104.4 888.5,104.6 885.2,104.9C881.8,105.1 878.5,105.4 875.1,105.6C871.7,105.9 868.4,106.2 865.0,106.4C861.7,106.7 858.3,107.0 854.9,107.3C851.6,107.5 848.2,107.8 844.9,108.1C841.5,108.4 838.2,108.7 834.8,109.0C831.4,109.3 828.1,109.6 824.7,109.9C821.4,110.2 818.0,110.5 814.7,110.8C811.3,111.1 807.9,111.4 804.6,111.7C801.2,112.0 797.9,112.3 794.5,112.7C791.2,113.0 787.8,113.3 784.5,113.6C781.1,113.9 777.7,114.3 774.4,114.6C771.0,114.9 767.7,115.3 764.3,115.6C761.0,115.9 757.6,116.3 754.3,116.6C750.9,117.0 747.6,117.3 744.2,117.7C740.9,118.0 737.5,118.4 734.2,118.7C730.8,119.1 727.4,119.4 724.1,119.8C720.7,120.1 717.4,120.5 714.0,120.9C710.7,121.2 707.3,121.6 704.0,121.9C700.6,122.3 697.3,122.7 693.9,123.0C690.6,123.4 687.2,123.8 683.9,124.2C680.5,124.5 677.2,124.9 673.8,125.3C670.5,125.7 667.1,126.0 663.8,126.4C660.4,126.8 657.1,127.2 653.7,127.6C650.4,127.9 647.0,128.3 643.7,128.7C640.4,129.1 637.0,129.5 633.7,129.9C630.3,130.3 627.0,130.6 623.6,131.0C620.3,131.4 616.9,131.8 613.6,132.2C610.2,132.6 606.9,133.0 603.5,133.4C600.2,133.8 596.8,134.2 593.5,134.6C590.1,134.9 586.8,135.3 583.4,135.7C580.1,136.1 576.7,136.5 573.4,136.9C570.1,137.3 566.7,137.7 563.4,138.1C560.0,138.5 556.7,138.9 553.3,139.3C550.0,139.7 546.6,140.1 543.3,140.5C539.9,140.9 536.6,141.3 533.2,141.7C529.9,142.1 526.5,142.5 523.2,142.9C519.8,143.3 516.5,143.7 513.1,144.0C509.8,144.4 506.5,144.8 503.1,145.2C499.8,145.6 496.4,146.0 493.1,146.4C489.7,146.8 486.4,147.2 483.0,147.6C479.7,148.0 476.3,148.4 473.0,148.8C469.6,149.1 466.3,149.5 462.9,149.9C459.6,150.3 456.2,150.7 452.9,151.1C449.5,151.5 446.2,151.9 442.8,152.2C439.5,152.6 436.1,153.0 432.8,153.4C429.4,153.8 426.1,154.1 422.8,154.5"/>
<polygon class="a" points="422.23,149.88 409.50,156.00 423.27,159.15"/>
<path class="e" d="M1107.4,97.5C1104.0,97.8 1100.7,98.1 1097.3,98.4C1094.0,98.6 1090.6,98.9 1087.3,99.2C1083.9,99.5 1080.5,99.8 1077.2,100.1C1073.8,100.4 1070.5,100.7 1067.1,101.0C1063.8,101.3 1060.4,101.6 1057.0,101.9C1053.7,102.2 1050.3,102.5 1047.0,102.8C1043.6,103.0 1040.3,103.3 1036.9,103.6C1033.5,103.9 1030.2,104.2 1026.8,104.5C1023.5,104.9 1020.1,105.2 1016.8,105.5C1013.4,105.8 1010.0,106.1 1006.7,106.4C1003.3,106.7 1000.0,107.0 996.6,107.3C993.3,107.6 989.9,107.9 986.6,108.2C983.2,108.5 979.8,108.8 976.5,109.2C973.1,109.5 969.8,109.8 966.4,110.1C963.1,110.4 959.7,110.7 956.4,111.0C953.0,111.4 949.6,111.7 946.3,112.0C942.9,112.3 939.6,112.6 936.2,112.9C932.9,113.3 929.5,113.6 926.2,113.9C922.8,114.2 919.5,114.6 916.1,114.9C912.7,115.2 909.4,115.5 906.0,115.9C902.7,116.2 899.3,116.5 896.0,116.8C892.6,117.2 889.3,117.5 885.9,117.8C882.6,118.2 879.2,118.5 875.8,118.8C872.5,119.2 869.1,119.5 865.8,119.8C862.4,120.2 859.1,120.5 855.7,120.8C852.4,121.2 849.0,121.5 845.7,121.9C842.3,122.2 839.0,122.5 835.6,122.9C832.3,123.2 828.9,123.6 825.6,123.9C822.2,124.3 818.9,124.6 815.5,125.0C812.1,125.3 808.8,125.7 805.4,126.0C802.1,126.3 798.7,126.7 795.4,127.1C792.0,127.4 788.7,127.8 785.3,128.1C782.0,128.5 778.6,128.8 775.3,129.2C771.9,129.5 768.6,129.9 765.2,130.2C761.9,130.6 758.5,131.0 755.2,131.3C751.8,131.7 748.5,132.0 745.1,132.4C741.8,132.8 738.4,133.1 735.1,133.5C731.7,133.9 728.4,134.2 725.0,134.6C721.7,135.0 718.3,135.3 715.0,135.7C711.6,136.1 708.3,136.4 704.9,136.8C701.6,137.2 698.2,137.6 694.9,137.9C691.5,138.3 688.2,138.7 684.8,139.1C681.5,139.4 678.1,139.8 674.8,140.2C671.4,140.6 668.1,141.0 664.7,141.3C661.4,141.7 658.0,142.1 654.7,142.5C651.3,142.9 648.0,143.3 644.6,143.6C641.3,144.0 638.0,144.4 634.6,144.8C631.3,145.2 627.9,145.6 624.6,146.0C621.2,146.4 617.9,146.8 614.5,147.2C611.2,147.6 607.8,147.9 604.5,148.3C601.1,148.7 597.8,149.1 594.4,149.5C591.1,149.9 587.7,150.3 584.4,150.7C581.1,151.1 577.7,151.5 574.4,151.9C571.0,152.3 567.7,152.8 564.3,153.2C561.0,153.6 557.6,154.0 554.3,154.4C550.9,154.8 547.6,155.2 544.3,155.6C540.9,156.0 537.6,156.4 534.2,156.8C530.9,157.3 527.5,157.7 524.2,158.1C520.8,158.5 517.5,158.9 514.2,159.3C510.8,159.8 507.5,160.2 504.1,160.6"/>
<polygon class="a" points="503.53,155.98 490.90,162.30 504.72,165.24"/>
<path class="e" d="M1107.4,99.0C1104.0,99.3 1100.6,99.6 1097.2,99.9C1093.8,100.3 1090.5,100.6 1087.1,100.9C1083.7,101.2 1080.3,101.6 1076.9,101.9C1073.5,102.3 1070.1,102.6 1066.8,103.0C1063.4,103.4 1060.0,103.7 1056.6,104.1C1053.2,104.5 1049.8,104.9 1046.5,105.2C1043.1,105.6 1039.7,106.0 1036.3,106.4C1032.9,106.8 1029.6,107.2 1026.2,107.6C1022.8,108.0 1019.4,108.4 1016.0,108.9C1012.7,109.3 1009.3,109.7 1005.9,110.1C1002.5,110.5 999.2,111.0 995.8,111.4C992.4,111.8 989.0,112.3 985.7,112.7C982.3,113.2 978.9,113.6 975.5,114.1C972.2,114.5 968.8,115.0 965.4,115.4C962.0,115.9 958.7,116.4 955.3,116.8C951.9,117.3 948.6,117.8 945.2,118.2C941.8,118.7 938.4,119.2 935.1,119.7C931.7,120.1 928.3,120.6 925.0,121.1C921.6,121.6 918.2,122.0 914.9,122.5C911.5,123.0 908.1,123.5 904.7,124.0C901.4,124.5 898.0,125.0 894.6,125.5C891.3,125.9 887.9,126.4 884.5,126.9C881.2,127.4 877.8,127.9 874.4,128.4C871.1,128.9 867.7,129.4 864.3,129.9C861.0,130.4 857.6,130.9 854.2,131.4C850.9,131.9 847.5,132.4 844.1,132.9C840.8,133.4 837.4,133.9 834.0,134.3C830.7,134.8 827.3,135.3 823.9,135.8C820.6,136.3 817.2,136.8 813.8,137.3C810.5,137.8 807.1,138.3 803.7,138.8C800.3,139.2 797.0,139.7 793.6,140.2C790.2,140.7 786.9,141.2 783.5,141.7C780.1,142.1 776.8,142.6 773.4,143.1C770.0,143.6 766.6,144.0 763.3,144.5C759.9,145.0 756.5,145.4 753.2,145.9C749.8,146.4 746.4,146.8 743.0,147.3C739.7,147.7 736.3,148.2 732.9,148.6C729.6,149.1 726.2,149.5 722.8,150.0C719.4,150.4 716.1,150.8 712.7,151.3C709.3,151.7 705.9,152.1 702.5,152.6C699.2,153.0 695.8,153.4 692.4,153.8"/>
<polygon class="a" points="691.79,149.19 679.20,155.60 693.04,158.44"/>
<path class="e" d="M1107.4,100.5C1104.0,100.8 1100.5,101.0 1097.1,101.3C1093.7,101.6 1090.3,101.9 1086.8,102.2C1083.4,102.6 1080.0,102.9 1076.5,103.2C1073.1,103.6 1069.7,103.9 1066.3,104.3C1062.9,104.7 1059.4,105.0 1056.0,105.4C1052.6,105.8 1049.2,106.2 1045.8,106.7C1042.3,107.1 1038.9,107.5 1035.5,107.9C1032.1,108.4 1028.7,108.8 1025.3,109.3C1021.9,109.8 1018.5,110.2 1015.1,110.7C1011.7,111.2 1008.3,111.7 1004.8,112.2C1001.4,112.7 998.0,113.3 994.6,113.8C991.2,114.3 987.8,114.9 984.4,115.4C981.0,116.0 977.7,116.5 974.3,117.1C970.9,117.7 967.5,118.3 964.1,118.8C960.7,119.4 957.3,120.0 953.9,120.6C950.5,121.2 947.1,121.9 943.8,122.5C940.4,123.1 937.0,123.8 933.6,124.4C930.2,125.0 926.9,125.7 923.5,126.4C920.1,127.0 916.7,127.7 913.3,128.4C910.0,129.0 906.6,129.7 903.2,130.4C899.9,131.1 896.5,131.8 893.1,132.5C889.8,133.2 886.4,133.9 883.0,134.7C879.7,135.4 876.3,136.1 872.9,136.8C869.6,137.6 866.2,138.3 862.8,139.1C859.5,139.8 856.1,140.6 852.8,141.3C849.4,142.1 846.1,142.8 842.7,143.6C839.4,144.4 836.0,145.2 832.7,145.9C829.3,146.7 825.9,147.5 822.6,148.3C819.3,149.1 815.9,149.9 812.6,150.7C809.2,151.5 805.9,152.3 802.5,153.1"/>
<polygon class="a" points="801.51,148.57 789.50,156.00 803.53,157.68"/>
<path class="e" d="M1107.4,102.0C1104.0,102.3 1100.7,102.7 1097.4,103.1C1094.0,103.4 1090.7,103.8 1087.3,104.2C1084.0,104.7 1080.6,105.1 1077.3,105.6C1074.0,106.0 1070.6,106.5 1067.3,107.0C1064.0,107.5 1060.7,108.0 1057.3,108.6C1054.0,109.1 1050.7,109.7 1047.4,110.3C1044.1,110.9 1040.8,111.5 1037.4,112.1C1034.1,112.7 1030.8,113.3 1027.5,114.0C1024.2,114.7 1020.9,115.3 1017.6,116.0C1014.3,116.7 1011.1,117.4 1007.8,118.2C1004.5,118.9 1001.2,119.6 997.9,120.4C994.6,121.1 991.4,121.9 988.1,122.7C984.8,123.5 981.5,124.3 978.3,125.1C975.0,125.9 971.8,126.8 968.5,127.6C965.2,128.5 962.0,129.3 958.7,130.2C955.5,131.1 952.2,132.0 949.0,132.9C945.7,133.8 942.5,134.7 939.3,135.6C936.0,136.5 932.8,137.5 929.6,138.4C926.3,139.3 923.1,140.3 919.9,141.3C916.7,142.2 913.4,143.2 910.2,144.2C907.0,145.2 903.8,146.2 900.6,147.2C897.4,148.2 894.1,149.2 890.9,150.2C887.7,151.3 884.5,152.3 881.3,153.3"/>
<polygon class="a" points="879.94,148.88 868.60,157.30 882.72,157.79"/>
<path class="e" d="M1107.4,103.5C1104.0,104.3 1100.7,105.1 1097.3,106.0C1094.0,106.8 1090.6,107.7 1087.3,108.6C1084.0,109.5 1080.6,110.4 1077.3,111.4C1074.0,112.3 1070.7,113.3 1067.4,114.3C1064.1,115.3 1060.8,116.3 1057.5,117.3C1054.2,118.4 1050.9,119.4 1047.6,120.5C1044.3,121.6 1041.1,122.7 1037.8,123.9C1034.5,125.0 1031.3,126.2 1028.0,127.3C1024.8,128.5 1021.6,129.7 1018.3,131.0C1015.1,132.2 1011.9,133.4 1008.7,134.7C1005.5,136.0 1002.3,137.3 999.1,138.6C995.9,139.9 992.7,141.3 989.5,142.6C986.3,144.0 983.2,145.4 980.0,146.8C976.9,148.2 973.7,149.6 970.6,151.1"/>
<polygon class="a" points="968.88,146.76 958.20,156.00 972.32,155.44"/>
<path class="e" d="M1116.9,106.2C1114.0,108.1 1111.1,110.0 1108.2,111.9C1105.2,113.8 1102.3,115.7 1099.4,117.5C1096.4,119.3 1093.4,121.2 1090.5,123.0C1087.5,124.8 1084.5,126.6 1081.5,128.3C1078.5,130.1 1075.5,131.8 1072.5,133.5C1069.5,135.3 1066.4,137.0 1063.4,138.7C1060.4,140.3 1057.3,142.0 1054.2,143.6C1051.2,145.3 1048.1,146.9 1045.0,148.5"/>
<polygon class="a" points="1042.77,144.41 1033.30,154.90 1047.24,152.61"/>
<path class="e" d="M1131.80,106.20L1114.97,142.79"/>
<polygon class="a" points="1110.73,140.84 1109.40,154.90 1119.21,144.74"/>
<path class="e" d="M1158.00,106.20L1222.87,147.71"/>
<polygon class="a" points="1220.35,151.64 1234.10,154.90 1225.38,143.78"/>
<path class="e" d="M1145.6,106.2C1147.4,108.9 1149.1,111.9 1150.7,115.2C1152.1,118.2 1153.4,121.4 1154.6,124.7C1155.7,127.9 1156.6,131.3 1157.4,134.6C1158.1,138.0 1158.7,141.4 1159.0,144.8C1159.3,148.3 1159.3,151.7 1159.1,155.1C1158.8,158.6 1158.2,162.0 1157.2,165.2C1156.2,168.6 1154.7,171.7 1152.8,174.5C1150.9,177.3 1148.4,179.7 1145.5,181.7C1142.8,183.6 1139.7,185.2 1136.5,186.6C1133.3,188.0 1130.1,189.3 1126.9,190.5C1123.7,191.7 1120.4,192.8 1117.2,193.8C1113.9,194.9 1110.6,195.8 1107.3,196.8C1104.0,197.7 1100.6,198.6 1097.3,199.4C1094.0,200.2 1090.6,201.0 1087.3,201.7C1083.9,202.5 1080.6,203.2 1077.2,203.9C1073.8,204.6 1070.5,205.3 1067.1,206.0C1063.7,206.7 1060.4,207.4 1057.0,208.1C1053.6,208.8 1050.3,209.5 1046.9,210.2C1043.6,210.9 1040.2,211.6 1036.8,212.4C1033.5,213.1 1030.1,213.8 1026.8,214.6C1023.4,215.3 1020.0,216.0 1016.7,216.8C1013.3,217.5 1010.0,218.2 1006.6,218.9C1003.2,219.7 999.9,220.4 996.5,221.1C993.2,221.8 989.8,222.5 986.4,223.2C983.1,223.9 979.7,224.5 976.3,225.2C972.9,225.8 969.6,226.5 966.2,227.1C962.8,227.7 959.4,228.3 956.0,228.9C952.6,229.5 949.2,230.0 945.9,230.5C942.5,231.1 939.1,231.6 935.7,232.0C932.2,232.5 928.8,232.9 925.4,233.3C922.0,233.8 918.6,234.1 915.2,234.5C911.8,234.8 908.3,235.1 904.9,235.4"/>
<polygon class="a" points="904.27,230.75 891.70,237.20 905.55,240.00"/>
<path class="e" d="M1169.6,103.0C1172.7,104.2 1175.9,105.4 1179.1,106.5C1182.3,107.7 1185.5,108.7 1188.7,109.7C1191.9,110.8 1195.2,111.7 1198.4,112.7C1201.7,113.6 1204.9,114.6 1208.2,115.5C1211.4,116.4 1214.7,117.3 1217.9,118.2C1221.2,119.1 1224.5,120.0 1227.7,121.0C1231.0,121.9 1234.2,122.9 1237.4,123.8C1240.7,124.8 1243.9,125.9 1247.1,126.9C1250.3,128.0 1253.5,129.2 1256.6,130.3C1259.8,131.5 1262.9,132.8 1266.1,134.0C1269.1,135.3 1272.3,136.6 1275.4,138.0C1278.5,139.2 1281.6,140.6 1284.7,142.0C1287.8,143.4 1290.9,144.9 1293.8,146.5C1296.8,148.3 1299.6,150.3 1301.9,152.5C1304.4,155.0 1306.4,157.8 1307.6,160.8C1308.9,163.9 1309.3,167.3 1309.1,170.8C1309.0,174.0 1308.3,177.4 1307.2,180.7C1306.1,183.8 1304.8,187.0 1303.2,190.0C1301.6,193.0 1299.8,195.9 1297.9,198.7C1296.0,201.5 1293.9,204.2 1291.7,206.7C1289.5,209.3 1287.2,211.7 1284.8,214.1C1282.4,216.5 1279.9,218.7 1277.3,220.9"/>
<polygon class="a" points="1274.31,217.35 1267.10,229.50 1280.31,224.50"/>
<path class="e" d="M1169.6,103.5C1173.0,103.8 1176.3,104.2 1179.6,104.8C1182.9,105.3 1186.2,106.0 1189.4,106.8C1192.7,107.5 1195.9,108.4 1199.1,109.4C1202.4,110.3 1205.5,111.4 1208.7,112.5C1211.9,113.6 1215.0,114.8 1218.1,116.0C1221.3,117.2 1224.4,118.5 1227.5,119.8C1230.6,121.1 1233.6,122.4 1236.7,123.7C1239.8,125.0 1242.9,126.4 1246.0,127.7C1249.0,129.0 1252.1,130.3 1255.2,131.6C1258.3,132.9 1261.4,134.2 1264.5,135.4C1267.7,136.6 1270.8,137.8 1274.0,138.9C1277.1,140.0 1280.3,141.0 1283.5,142.0C1286.7,142.9 1290.0,143.8 1293.2,144.6C1296.5,145.4 1299.8,146.1 1303.1,146.8C1306.4,147.6 1309.7,148.4 1312.8,149.4C1316.0,150.5 1319.1,151.9 1321.8,153.8C1324.5,155.7 1326.9,158.0 1329.1,160.7C1331.1,163.3 1333.0,166.1 1334.6,169.1C1336.3,172.0 1337.7,175.1 1339.0,178.1C1340.3,181.2 1341.5,184.4 1342.7,187.5C1343.9,190.6 1345.0,193.8 1346.2,196.9C1347.3,200.1 1348.6,203.2 1349.8,206.3C1351.0,209.5 1352.0,212.7 1352.5,216.0C1352.9,219.2 1352.8,222.5 1352.4,226.0C1352.0,229.2 1351.3,232.6 1350.3,235.8C1349.3,239.1 1348.1,242.3 1346.5,245.1C1344.8,248.2 1342.8,250.9 1340.6,253.2C1338.2,255.6 1335.5,257.6 1332.6,259.3C1329.8,261.0 1326.7,262.4 1323.5,263.5C1320.4,264.6 1317.2,265.5 1313.8,266.3C1310.6,267.1 1307.3,267.7 1304.0,268.3C1300.7,268.9 1297.4,269.5 1294.1,270.1C1290.8,270.7 1287.5,271.3 1284.2,271.8C1280.9,272.4 1277.6,273.0 1274.3,273.5C1271.0,274.1 1267.7,274.7 1264.4,275.2C1261.0,275.8 1257.7,276.3 1254.4,276.9C1251.1,277.4 1247.8,278.0 1244.5,278.5C1241.2,279.0 1237.9,279.5 1234.6,280.1C1231.3,280.6 1227.9,281.1 1224.6,281.6C1221.3,282.1 1218.0,282.7 1214.7,283.2C1211.4,283.7 1208.1,284.2 1204.7,284.7C1201.4,285.2 1198.1,285.7 1194.8,286.1C1191.5,286.6 1188.2,287.1 1184.8,287.6C1181.5,288.1 1178.2,288.5 1174.9,289.0C1171.6,289.5 1168.2,289.9 1164.9,290.4C1161.6,290.9 1158.3,291.3 1155.0,291.8C1151.6,292.2 1148.3,292.7 1145.0,293.1C1141.7,293.6 1138.3,294.0 1135.0,294.5C1131.7,294.9 1128.4,295.3 1125.0,295.8C1121.7,296.2 1118.4,296.6 1115.1,297.0C1111.7,297.5 1108.4,297.9 1105.1,298.3C1101.8,298.7 1098.4,299.1 1095.1,299.5C1091.8,299.9 1088.4,300.3 1085.1,300.7C1081.8,301.1 1078.5,301.5 1075.1,301.9C1071.8,302.3 1068.5,302.7 1065.1,303.1C1061.8,303.5 1058.5,303.9 1055.1,304.3C1051.8,304.7 1048.5,305.0 1045.2,305.4C1041.8,305.8 1038.5,306.2 1035.2,306.5C1031.8,306.9 1028.5,307.3 1025.2,307.6C1021.8,308.0 1018.5,308.4 1015.2,308.7C1011.8,309.1 1008.5,309.5 1005.2,309.8C1001.8,310.2 998.5,310.5 995.2,310.9"/>
<polygon class="a" points="994.66,306.23 981.90,312.30 995.66,315.51"/>
<path class="e" d="M1169.6,102.0C1172.7,103.3 1175.8,104.5 1179.0,105.6C1182.1,106.6 1185.3,107.5 1188.6,108.4C1191.8,109.2 1195.0,109.9 1198.3,110.5C1201.6,111.1 1204.9,111.6 1208.2,112.0C1211.5,112.5 1214.8,112.8 1218.2,113.1C1221.5,113.4 1224.8,113.6 1228.2,113.8C1231.5,113.9 1234.8,114.1 1238.2,114.1C1241.5,114.2 1244.8,114.3 1248.2,114.3C1251.5,114.3 1254.8,114.4 1258.2,114.4C1261.5,114.4 1264.8,114.4 1268.2,114.4C1271.5,114.4 1274.8,114.4 1278.2,114.4C1281.5,114.4 1284.9,114.5 1288.2,114.6C1291.5,114.7 1294.9,114.8 1298.2,115.0C1301.5,115.1 1304.9,115.3 1308.2,115.6C1311.5,115.9 1314.8,116.2 1318.1,116.6C1321.4,117.1 1324.7,117.6 1328.0,118.2C1331.3,118.7 1334.6,119.4 1337.8,120.2C1341.0,121.0 1344.3,121.9 1347.4,123.0C1350.6,124.0 1353.7,125.1 1356.8,126.4C1359.9,127.6 1363.0,129.0 1366.0,130.5C1369.0,132.0 1371.9,133.6 1374.7,135.3C1377.6,137.0 1380.4,138.8 1383.1,140.8C1385.8,142.7 1388.4,144.8 1390.9,147.0C1393.5,149.2 1395.9,151.4 1398.2,153.8C1400.5,156.2 1402.7,158.7 1404.8,161.4C1406.9,164.0 1408.9,166.7 1410.7,169.4C1412.5,172.2 1414.2,175.1 1415.8,178.1C1417.4,181.0 1418.8,184.0 1420.0,187.1C1421.3,190.2 1422.4,193.3 1423.3,196.6C1424.3,199.7 1425.0,203.0 1425.7,206.3C1426.3,209.5 1426.7,212.8 1427.0,216.2"/>
<polygon class="a" points="1422.34,216.56 1428.00,229.50 1431.64,215.85"/>
<path class="e" d="M1169.6,102.5C1172.7,103.8 1175.9,105.0 1179.1,106.1C1182.3,107.2 1185.5,108.1 1188.8,109.0C1192.1,109.9 1195.4,110.7 1198.7,111.4C1202.0,112.0 1205.3,112.6 1208.6,113.2C1212.0,113.7 1215.3,114.1 1218.7,114.5C1222.0,114.9 1225.4,115.2 1228.8,115.4C1232.2,115.7 1235.5,115.9 1238.9,116.1C1242.3,116.2 1245.7,116.3 1249.1,116.4C1252.4,116.5 1255.8,116.5 1259.2,116.6C1262.6,116.6 1266.0,116.6 1269.3,116.6C1272.7,116.6 1276.1,116.6 1279.5,116.6C1282.9,116.6 1286.2,116.6 1289.6,116.6C1293.0,116.6 1296.4,116.6 1299.8,116.6C1303.2,116.6 1306.5,116.7 1309.9,116.8C1313.3,116.9 1316.7,117.0 1320.0,117.2C1323.4,117.4 1326.8,117.6 1330.2,117.8C1333.5,118.1 1336.9,118.5 1340.3,118.9C1343.6,119.3 1347.0,119.7 1350.3,120.3C1353.6,120.9 1357.0,121.5 1360.2,122.2C1363.5,123.0 1366.8,123.8 1370.1,124.7C1373.3,125.7 1376.5,126.7 1379.7,127.9C1382.9,129.0 1386.0,130.3 1389.1,131.6C1392.2,133.0 1395.2,134.5 1398.2,136.1C1401.2,137.7 1404.2,139.3 1407.1,141.1C1409.9,142.9 1412.8,144.7 1415.6,146.6C1418.3,148.6 1421.1,150.6 1423.7,152.6C1426.4,154.7 1429.0,156.8 1431.6,159.0C1434.2,161.2 1436.7,163.5 1439.1,165.8C1441.6,168.2 1444.0,170.6 1446.2,173.1C1448.5,175.6 1450.8,178.1 1452.8,180.8C1454.9,183.4 1456.9,186.1 1458.8,189.0C1460.6,191.8 1462.3,194.7 1463.9,197.7C1465.4,200.7 1466.8,203.8 1468.0,207.0C1469.2,210.1 1470.2,213.3 1471.1,216.7C1471.9,219.9 1472.6,223.3 1473.0,226.6C1473.4,230.0 1473.6,233.4 1473.4,236.7C1473.3,240.2 1472.8,243.6 1472.0,246.8C1471.1,250.1 1469.9,253.2 1468.1,256.1C1466.3,258.9 1464.1,261.4 1461.4,263.7C1458.9,265.8 1456.1,267.7 1453.1,269.4C1450.2,271.1 1447.2,272.7 1444.1,274.1C1441.1,275.5 1437.9,276.9 1434.8,278.1C1431.6,279.3 1428.5,280.5 1425.3,281.7C1422.1,282.8 1418.9,283.9 1415.7,285.0C1412.5,286.1 1409.3,287.1 1406.1,288.2C1402.9,289.2 1399.6,290.2 1396.4,291.2C1393.2,292.2 1389.9,293.1 1386.7,294.0C1383.4,294.9 1380.1,295.8 1376.9,296.7C1373.6,297.5 1370.3,298.4 1367.0,299.1C1363.7,299.9 1360.4,300.7 1357.1,301.4C1353.8,302.1 1350.5,302.8 1347.2,303.4C1343.9,304.1 1340.6,304.7 1337.2,305.3C1333.9,305.8 1330.6,306.4 1327.2,306.9C1323.9,307.4 1320.5,307.8 1317.2,308.3C1313.8,308.7 1310.5,309.1 1307.1,309.4C1303.7,309.7 1300.4,310.0 1297.0,310.3C1293.6,310.6 1290.3,310.8 1286.9,311.0"/>
<polygon class="a" points="1286.41,306.35 1273.60,312.30 1287.33,315.64"/>
<path class="e" d="M1169.6,103.0C1172.8,104.0 1176.0,104.9 1179.2,105.8C1182.5,106.7 1185.7,107.6 1188.9,108.4C1192.2,109.2 1195.5,109.9 1198.7,110.6C1202.0,111.3 1205.3,112.0 1208.6,112.6C1211.9,113.2 1215.2,113.8 1218.4,114.4C1221.8,114.9 1225.1,115.4 1228.4,115.9C1231.7,116.3 1235.0,116.8 1238.3,117.1C1241.7,117.5 1245.0,117.9 1248.3,118.2C1251.6,118.5 1255.0,118.8 1258.3,119.0C1261.7,119.3 1265.0,119.5 1268.3,119.7C1271.7,119.8 1275.0,120.0 1278.4,120.1C1281.7,120.2 1285.1,120.3 1288.4,120.4C1291.7,120.4 1295.1,120.5 1298.4,120.5C1301.8,120.5 1305.1,120.5 1308.5,120.4C1311.8,120.4 1315.2,120.3 1318.5,120.2C1321.9,120.2 1325.2,120.1 1328.5,119.9C1331.9,119.8 1335.2,119.7 1338.6,119.5C1341.9,119.4 1345.3,119.2 1348.6,119.0C1351.9,118.8 1355.3,118.6 1358.6,118.4C1362.0,118.2 1365.3,118.0 1368.6,117.7C1372.0,117.5 1375.3,117.3 1378.7,117.0C1382.0,116.7 1385.3,116.5 1388.7,116.2C1392.0,116.0 1395.3,115.7 1398.7,115.4C1402.0,115.1 1405.3,114.8 1408.7,114.6C1412.0,114.3 1415.3,114.0 1418.7,113.7C1422.0,113.4 1425.3,113.1 1428.7,112.9C1432.0,112.6 1435.3,112.3 1438.7,112.0C1442.0,111.7 1445.4,111.5 1448.7,111.2C1452.0,110.9 1455.4,110.7 1458.7,110.4C1462.0,110.2 1465.4,109.9 1468.7,109.7C1472.0,109.5 1475.4,109.3 1478.7,109.0C1482.1,108.8 1485.4,108.6 1488.7,108.5C1492.1,108.3 1495.4,108.1 1498.8,107.9C1502.1,107.8 1505.5,107.6 1508.8,107.5C1512.1,107.4 1515.5,107.3 1518.8,107.1C1522.2,107.0 1525.5,106.9 1528.9,106.9C1532.2,106.8 1535.6,106.7 1538.9,106.6C1542.2,106.6 1545.6,106.5 1548.9,106.5C1552.3,106.5 1555.6,106.5 1559.0,106.5C1562.3,106.5 1565.7,106.5 1569.0,106.5C1572.4,106.6 1575.7,106.6 1579.1,106.7C1582.4,106.8 1585.7,106.9 1589.1,107.0C1592.4,107.2 1595.8,107.4 1599.1,107.6C1602.5,107.8 1605.8,108.1 1609.1,108.4C1612.5,108.6 1615.8,109.0 1619.1,109.4C1622.4,109.8 1625.8,110.2 1629.1,110.7C1632.4,111.2 1635.7,111.7 1639.0,112.3C1642.3,112.9 1645.5,113.5 1648.8,114.2C1652.1,114.9 1655.4,115.6 1658.6,116.4C1661.9,117.1 1665.1,117.9 1668.4,118.7C1671.6,119.6 1674.9,120.4 1678.1,121.3C1681.3,122.2 1684.5,123.1 1687.7,124.1C1690.9,125.0 1694.1,126.0 1697.3,127.0C1700.5,128.0 1703.7,129.0 1706.9,130.0C1710.1,131.0 1713.3,132.0 1716.5,133.1C1719.6,134.1 1722.8,135.2 1726.0,136.3C1729.2,137.3 1732.3,138.4 1735.5,139.5C1738.7,140.5 1741.8,141.6 1745.0,142.7C1748.2,143.7 1751.4,144.8 1754.5,145.9C1757.7,146.9 1760.9,148.0 1764.1,149.0C1767.2,150.1 1770.4,151.1 1773.6,152.1C1776.8,153.1 1780.0,154.2 1783.2,155.2C1786.4,156.2 1789.5,157.3 1792.7,158.3C1795.9,159.4 1799.0,160.5 1802.2,161.6C1805.3,162.8 1808.5,163.9 1811.6,165.2C1814.7,166.4 1817.8,167.7 1820.8,169.0C1823.9,170.4 1826.9,171.8 1829.9,173.3C1832.9,174.8 1835.9,176.4 1838.8,178.1C1841.7,179.7 1844.5,181.5 1847.3,183.4C1850.0,185.2 1852.8,187.2 1855.4,189.3C1858.0,191.4 1860.6,193.5 1863.0,195.9C1865.4,198.2 1867.7,200.7 1869.7,203.3C1871.7,206.0 1873.4,208.9 1874.7,212.0C1876.1,215.0 1877.1,218.2 1877.9,221.5C1878.6,224.7 1879.1,228.0 1879.5,231.4C1879.8,234.7 1880.0,238.1 1880.1,241.4C1880.2,244.8 1880.2,248.2 1880.2,251.5C1880.1,254.8 1880.1,258.2 1880.0,261.5C1880.0,264.9 1879.9,268.2 1879.9,271.5C1880.0,274.9 1880.1,278.2 1880.2,281.6C1880.3,284.9 1880.5,288.3 1880.6,291.6C1880.8,294.9 1880.8,298.3 1880.8,301.6C1880.8,305.0 1880.6,308.3 1880.3,311.7C1879.9,315.0 1879.3,318.3 1878.5,321.5C1877.6,324.8 1876.4,327.9 1874.8,330.8C1873.1,333.8 1871.2,336.6 1869.0,339.0C1866.7,341.5 1864.2,343.8 1861.6,345.8C1858.9,347.7 1856.1,349.5 1853.1,351.1C1850.2,352.7 1847.1,354.2 1844.1,355.5C1841.0,356.9 1837.9,358.1 1834.8,359.4C1831.7,360.6 1828.5,361.8 1825.4,363.0C1822.3,364.2 1819.1,365.3 1816.0,366.4C1812.8,367.6 1809.7,368.6 1806.5,369.7C1803.3,370.8 1800.1,371.8 1797.0,372.8C1793.8,373.9 1790.6,374.8 1787.4,375.8C1784.2,376.8 1781.0,377.7 1777.7,378.6C1774.5,379.6 1771.3,380.5 1768.1,381.3C1764.8,382.2 1761.6,383.1 1758.4,383.9C1755.1,384.7 1751.9,385.5 1748.6,386.3C1745.4,387.1 1742.1,387.9 1738.9,388.6C1735.6,389.4 1732.3,390.1 1729.1,390.8C1725.8,391.6 1722.5,392.3 1719.2,392.9C1716.0,393.6 1712.7,394.3 1709.4,394.9C1706.1,395.6 1702.8,396.2 1699.6,396.9C1696.3,397.5 1693.0,398.1 1689.7,398.7C1686.4,399.3 1683.1,399.9 1679.8,400.5C1676.5,401.1 1673.2,401.6 1669.9,402.2C1666.6,402.8 1663.3,403.3 1660.0,403.8C1656.7,404.4 1653.4,404.9 1650.1,405.4C1646.8,406.0 1643.5,406.5 1640.2,407.0C1636.9,407.5 1633.6,408.0 1630.3,408.5C1627.0,409.0 1623.6,409.5 1620.3,410.0C1617.0,410.5 1613.7,411.0 1610.4,411.5C1607.1,412.0 1603.8,412.4 1600.5,412.9C1597.2,413.4 1593.8,413.8 1590.5,414.3C1587.2,414.7 1583.9,415.2 1580.6,415.6C1577.3,416.1 1573.9,416.5 1570.6,417.0C1567.3,417.4 1564.0,417.8 1560.7,418.2C1557.3,418.7 1554.0,419.1 1550.7,419.5C1547.4,419.9 1544.1,420.3 1540.7,420.7C1537.4,421.1 1534.1,421.5 1530.8,421.9C1527.5,422.3 1524.1,422.7 1520.8,423.0C1517.5,423.4 1514.2,423.8 1510.8,424.2C1507.5,424.5 1504.2,424.9 1500.8,425.3C1497.5,425.6 1494.2,426.0 1490.9,426.3C1487.5,426.7 1484.2,427.0 1480.9,427.4C1477.6,427.7 1474.2,428.1 1470.9,428.4C1467.6,428.7 1464.2,429.1 1460.9,429.4C1457.6,429.7 1454.2,430.0 1450.9,430.4C1447.6,430.7 1444.3,431.0 1440.9,431.3C1437.6,431.6 1434.3,431.9 1430.9,432.2C1427.6,432.5 1424.3,432.8 1420.9,433.1C1417.6,433.4 1414.3,433.7 1410.9,434.0C1407.6,434.3 1404.3,434.5 1400.9,434.8C1397.6,435.1 1394.3,435.4 1390.9,435.6C1387.6,435.9 1384.2,436.2 1380.9,436.4C1377.6,436.7 1374.2,437.0 1370.9,437.2C1367.6,437.5 1364.2,437.7 1360.9,438.0C1357.6,438.2 1354.2,438.5 1350.9,438.7C1347.5,439.0 1344.2,439.2 1340.9,439.5C1337.5,439.7 1334.2,440.0 1330.9,440.2C1327.5,440.4 1324.2,440.7 1320.8,440.9C1317.5,441.1 1314.2,441.3 1310.8,441.6C1307.5,441.8 1304.1,442.0 1300.8,442.2C1297.5,442.5 1294.1,442.7 1290.8,442.9C1287.5,443.1 1284.1,443.3 1280.8,443.5C1277.4,443.7 1274.1,443.9 1270.8,444.1C1267.4,444.4 1264.1,444.6 1260.7,444.8C1257.4,445.0 1254.1,445.2 1250.7,445.4C1247.4,445.6 1244.0,445.8 1240.7,446.0C1237.4,446.1 1234.0,446.3 1230.7,446.5C1227.3,446.7 1224.0,446.9 1220.6,447.1C1217.3,447.3 1214.0,447.5 1210.6,447.7C1207.3,447.8 1203.9,448.0 1200.6,448.2C1197.3,448.4 1193.9,448.6 1190.6,448.7C1187.2,448.9 1183.9,449.1 1180.6,449.3C1177.2,449.4 1173.9,449.6 1170.5,449.8C1167.2,450.0 1163.8,450.1 1160.5,450.3C1157.2,450.5 1153.8,450.6 1150.5,450.8C1147.1,451.0 1143.8,451.1 1140.4,451.3C1137.1,451.4 1133.8,451.6 1130.4,451.8C1127.1,451.9 1123.7,452.1 1120.4,452.2C1117.1,452.4 1113.7,452.5 1110.4,452.7C1107.0,452.8 1103.7,453.0 1100.3,453.1C1097.0,453.3 1093.6,453.4 1090.3,453.6C1087.0,453.7 1083.6,453.9 1080.3,454.0C1076.9,454.1 1073.6,454.3 1070.2,454.4C1066.9,454.5 1063.6,454.7 1060.2,454.8C1056.9,455.0 1053.5,455.1 1050.2,455.2C1046.8,455.4 1043.5,455.5 1040.2,455.6C1036.8,455.7 1033.5,455.9 1030.1,456.0C1026.8,456.1 1023.4,456.2 1020.1,456.4C1016.7,456.5 1013.4,456.6 1010.1,456.7C1006.7,456.9 1003.4,457.0 1000.0,457.1C996.7,457.2 993.3,457.3 990.0,457.4C986.7,457.6 983.3,457.7 980.0,457.8C976.6,457.9 973.3,458.0 969.9,458.1C966.6,458.2 963.2,458.3 959.9,458.4C956.6,458.5 953.2,458.6 949.9,458.7C946.5,458.9 943.2,459.0 939.8,459.1C936.5,459.2 933.1,459.3 929.8,459.4C926.4,459.5 923.1,459.6 919.8,459.6C916.4,459.7 913.1,459.8 909.7,459.9C906.4,460.0 903.0,460.1 899.7,460.2C896.3,460.3 893.0,460.4 889.7,460.5C886.3,460.6 883.0,460.6 879.6,460.7C876.3,460.8 872.9,460.9 869.6,461.0C866.2,461.1 862.9,461.1 859.5,461.2C856.2,461.3 852.9,461.4 849.5,461.5C846.2,461.5 842.8,461.6 839.5,461.7C836.1,461.8 832.8,461.8 829.4,461.9C826.1,462.0 822.7,462.1 819.4,462.1C816.1,462.2 812.7,462.3 809.4,462.4C806.0,462.4 802.7,462.5 799.3,462.6C796.0,462.6 792.6,462.7 789.3,462.8C785.9,462.8 782.6,462.9 779.3,462.9C775.9,463.0 772.6,463.1 769.2,463.1C765.9,463.2 762.5,463.2 759.2,463.3C755.8,463.4 752.5,463.4 749.1,463.5C745.8,463.5 742.5,463.6 739.1,463.6C735.8,463.7 732.4,463.7 729.1,463.8C725.7,463.8 722.4,463.9 719.0,463.9C715.7,464.0 712.3,464.0 709.0,464.1C705.7,464.1 702.3,464.2 699.0,464.2C695.6,464.3 692.3,464.3 688.9,464.4C685.6,464.4 682.2,464.5 678.9,464.5C675.5,464.5 672.2,464.6 668.8,464.6C665.5,464.7 662.2,464.7 658.8,464.7C655.5,464.8 652.1,464.8 648.8,464.9C645.4,464.9 642.1,464.9 638.7,465.0"/>
<polygon class="a" points="638.65,460.30 625.40,465.20 638.81,469.63"/>
<path class="e" d="M1169.6,104.0C1172.8,104.9 1176.1,105.7 1179.4,106.5C1182.6,107.3 1185.9,108.1 1189.1,108.9C1192.4,109.7 1195.7,110.5 1199.0,111.2C1202.2,112.0 1205.5,112.7 1208.8,113.4C1212.1,114.2 1215.4,114.9 1218.7,115.5C1221.9,116.2 1225.2,116.9 1228.5,117.5C1231.8,118.2 1235.1,118.8 1238.4,119.5C1241.7,120.1 1245.0,120.7 1248.3,121.3C1251.6,121.9 1255.0,122.5 1258.3,123.0C1261.6,123.6 1264.9,124.2 1268.2,124.7C1271.5,125.3 1274.8,125.8 1278.2,126.3C1281.5,126.8 1284.8,127.4 1288.1,127.9C1291.4,128.4 1294.8,128.8 1298.1,129.3C1301.4,129.8 1304.7,130.3 1308.1,130.7C1311.4,131.2 1314.7,131.7 1318.1,132.1C1321.4,132.6 1324.7,133.0 1328.0,133.4C1331.4,133.9 1334.7,134.3 1338.0,134.7C1341.4,135.1 1344.7,135.5 1348.0,135.9C1351.4,136.3 1354.7,136.7 1358.1,137.1C1361.4,137.5 1364.7,137.9 1368.1,138.3C1371.4,138.7 1374.7,139.1 1378.1,139.5C1381.4,139.8 1384.8,140.2 1388.1,140.6C1391.4,141.0 1394.8,141.3 1398.1,141.7C1401.5,142.1 1404.8,142.4 1408.1,142.8C1411.5,143.2 1414.8,143.6 1418.2,143.9C1421.5,144.3 1424.8,144.7 1428.2,145.0C1431.5,145.4 1434.8,145.8 1438.2,146.1C1441.5,146.5 1444.9,146.9 1448.2,147.3C1451.5,147.6 1454.9,148.0 1458.2,148.4C1461.6,148.8 1464.9,149.2 1468.2,149.5C1471.6,149.9 1474.9,150.3 1478.2,150.7C1481.6,151.1 1484.9,151.5 1488.3,151.9C1491.6,152.3 1494.9,152.7 1498.3,153.2C1501.6,153.6 1504.9,154.0 1508.3,154.4C1511.6,154.9 1514.9,155.3 1518.2,155.8"/>
<polygon class="a" points="1517.74,160.41 1531.50,157.20 1518.74,151.13"/>
<path class="e" d="M1169.6,103.5C1172.9,104.3 1176.1,105.1 1179.4,105.9C1182.7,106.6 1186.0,107.4 1189.3,108.1C1192.6,108.8 1195.8,109.5 1199.1,110.2C1202.4,110.9 1205.7,111.6 1209.0,112.2C1212.3,112.8 1215.7,113.5 1219.0,114.1C1222.3,114.7 1225.6,115.2 1228.9,115.8C1232.2,116.4 1235.6,116.9 1238.9,117.4C1242.2,118.0 1245.5,118.5 1248.9,119.0C1252.2,119.4 1255.5,119.9 1258.9,120.4C1262.2,120.8 1265.5,121.3 1268.9,121.7C1272.2,122.1 1275.5,122.5 1278.9,122.9C1282.2,123.3 1285.6,123.7 1288.9,124.1C1292.3,124.5 1295.6,124.8 1299.0,125.2C1302.3,125.5 1305.7,125.8 1309.0,126.2C1312.4,126.5 1315.7,126.8 1319.1,127.1C1322.4,127.4 1325.8,127.7 1329.1,127.9C1332.5,128.2 1335.8,128.5 1339.2,128.7C1342.5,129.0 1345.9,129.2 1349.3,129.5C1352.6,129.7 1356.0,130.0 1359.3,130.2C1362.7,130.4 1366.1,130.6 1369.4,130.8C1372.8,131.0 1376.1,131.2 1379.5,131.4C1382.9,131.6 1386.2,131.8 1389.6,132.0C1392.9,132.2 1396.3,132.4 1399.7,132.6C1403.0,132.8 1406.4,132.9 1409.7,133.1C1413.1,133.3 1416.5,133.5 1419.8,133.6C1423.2,133.8 1426.5,134.0 1429.9,134.1C1433.3,134.3 1436.6,134.5 1440.0,134.6C1443.4,134.8 1446.7,135.0 1450.1,135.1C1453.4,135.3 1456.8,135.5 1460.2,135.6C1463.5,135.8 1466.9,136.0 1470.3,136.2C1473.6,136.3 1477.0,136.5 1480.3,136.7C1483.7,136.9 1487.1,137.0 1490.4,137.2C1493.8,137.4 1497.1,137.6 1500.5,137.8C1503.9,138.0 1507.2,138.2 1510.6,138.4C1513.9,138.6 1517.3,138.8 1520.7,139.1C1524.0,139.3 1527.4,139.5 1530.7,139.7C1534.1,140.0 1537.4,140.2 1540.8,140.5C1544.2,140.7 1547.5,141.0 1550.9,141.3C1554.2,141.5 1557.6,141.8 1560.9,142.1C1564.3,142.4 1567.6,142.7 1571.0,143.0C1574.3,143.3 1577.7,143.6 1581.0,144.0C1584.4,144.3 1587.7,144.7 1591.1,145.0C1594.4,145.4 1597.8,145.8 1601.1,146.2C1604.5,146.6 1607.8,147.0 1611.1,147.4C1614.5,147.8 1617.8,148.2 1621.2,148.7C1624.5,149.1 1627.8,149.6 1631.2,150.1C1634.5,150.6 1637.8,151.1 1641.1,151.6C1644.5,152.1 1647.8,152.6 1651.1,153.2C1654.4,153.7 1657.8,154.3 1661.1,154.9"/>
<polygon class="a" points="1660.50,159.51 1674.30,156.50 1661.63,150.25"/>
<path class="e" d="M1169.6,103.5C1172.9,104.3 1176.2,105.1 1179.4,105.8C1182.7,106.6 1186.0,107.3 1189.3,108.0C1192.6,108.7 1195.9,109.4 1199.2,110.1C1202.5,110.8 1205.8,111.4 1209.1,112.1C1212.4,112.7 1215.7,113.3 1219.0,113.9C1222.3,114.5 1225.6,115.1 1229.0,115.7C1232.3,116.3 1235.6,116.8 1238.9,117.4C1242.2,117.9 1245.6,118.4 1248.9,118.9C1252.2,119.4 1255.6,119.9 1258.9,120.4C1262.2,120.9 1265.6,121.3 1268.9,121.8C1272.2,122.2 1275.6,122.6 1278.9,123.0C1282.3,123.4 1285.6,123.8 1288.9,124.2C1292.3,124.6 1295.6,125.0 1299.0,125.3C1302.3,125.7 1305.7,126.0 1309.0,126.4C1312.4,126.7 1315.7,127.0 1319.1,127.3C1322.4,127.6 1325.8,127.9 1329.2,128.2C1332.5,128.5 1335.9,128.7 1339.2,129.0C1342.6,129.2 1345.9,129.5 1349.3,129.7C1352.7,130.0 1356.0,130.2 1359.4,130.4C1362.7,130.6 1366.1,130.8 1369.5,131.0C1372.8,131.2 1376.2,131.4 1379.5,131.6C1382.9,131.7 1386.3,131.9 1389.6,132.1C1393.0,132.2 1396.4,132.4 1399.7,132.5C1403.1,132.6 1406.5,132.8 1409.8,132.9C1413.2,133.0 1416.5,133.1 1419.9,133.2C1423.3,133.4 1426.6,133.5 1430.0,133.6C1433.4,133.7 1436.7,133.7 1440.1,133.8C1443.5,133.9 1446.8,134.0 1450.2,134.1C1453.6,134.1 1456.9,134.2 1460.3,134.3C1463.7,134.3 1467.0,134.4 1470.4,134.4C1473.8,134.5 1477.1,134.6 1480.5,134.6C1483.9,134.6 1487.2,134.7 1490.6,134.7C1494.0,134.8 1497.3,134.8 1500.7,134.8C1504.1,134.9 1507.4,134.9 1510.8,134.9C1514.2,135.0 1517.5,135.0 1520.9,135.0C1524.3,135.0 1527.6,135.1 1531.0,135.1C1534.4,135.1 1537.7,135.1 1541.1,135.2C1544.5,135.2 1547.8,135.2 1551.2,135.2C1554.6,135.3 1557.9,135.3 1561.3,135.3C1564.7,135.3 1568.0,135.4 1571.4,135.4C1574.8,135.4 1578.1,135.4 1581.5,135.5C1584.9,135.5 1588.2,135.5 1591.6,135.5C1595.0,135.6 1598.3,135.6 1601.7,135.6C1605.1,135.7 1608.4,135.7 1611.8,135.7C1615.2,135.8 1618.5,135.8 1621.9,135.9C1625.3,135.9 1628.6,136.0 1632.0,136.0C1635.4,136.1 1638.7,136.1 1642.1,136.2C1645.5,136.2 1648.8,136.3 1652.2,136.4C1655.6,136.4 1658.9,136.5 1662.3,136.6C1665.7,136.6 1669.0,136.7 1672.4,136.8C1675.8,136.9 1679.1,137.0 1682.5,137.1C1685.9,137.2 1689.2,137.3 1692.6,137.4C1696.0,137.5 1699.3,137.6 1702.7,137.7C1706.1,137.8 1709.4,137.9 1712.8,138.1C1716.2,138.2 1719.5,138.3 1722.9,138.5C1726.2,138.6 1729.6,138.7 1733.0,138.9C1736.3,139.1 1739.7,139.2 1743.1,139.4C1746.4,139.6 1749.8,139.7 1753.1,139.9C1756.5,140.1 1759.9,140.3 1763.2,140.5C1766.6,140.7 1770.0,140.9 1773.3,141.1C1776.7,141.4 1780.0,141.6 1783.4,141.8C1786.7,142.1 1790.1,142.3 1793.5,142.6C1796.8,142.8 1800.2,143.1 1803.5,143.4C1806.9,143.7 1810.2,143.9 1813.6,144.2C1817.0,144.5 1820.3,144.9 1823.7,145.2C1827.0,145.5 1830.4,145.8 1833.7,146.2C1837.1,146.5 1840.4,146.9 1843.8,147.2C1847.1,147.6 1850.4,148.0 1853.8,148.3C1857.1,148.7 1860.5,149.1 1863.8,149.5C1867.2,149.9 1870.5,150.4 1873.8,150.8C1877.2,151.2 1880.5,151.7 1883.9,152.2C1887.2,152.6 1890.5,153.1 1893.9,153.6C1897.2,154.1 1900.5,154.6 1903.8,155.1"/>
<polygon class="a" points="1903.35,159.72 1917.10,156.50 1904.34,150.44"/>
<path class="e" d="M1699.00,180.80L1626.15,222.84"/>
<polygon class="a" points="1623.82,218.79 1614.60,229.50 1628.48,226.88"/>
<path class="e" d="M1719.60,180.80L1719.24,216.17"/>
<polygon class="a" points="1714.57,216.12 1719.10,229.50 1723.90,216.22"/>
<path class="e" d="M1735.50,180.80L1786.73,221.24"/>
<polygon class="a" points="1783.84,224.90 1797.20,229.50 1789.63,217.58"/>
<path class="e" d="M1224.80,180.80L1123.85,224.23"/>
<polygon class="a" points="1122.00,219.94 1111.60,229.50 1125.69,228.52"/>
<path class="e" d="M1252.10,180.80L1252.10,216.17"/>
<polygon class="a" points="1247.43,216.17 1252.10,229.50 1256.77,216.17"/>
<path class="e" d="M1212.2,174.4C1208.9,174.9 1205.6,175.5 1202.2,176.0C1198.9,176.5 1195.6,177.0 1192.3,177.5C1188.9,178.0 1185.6,178.5 1182.3,179.0C1178.9,179.5 1175.6,180.0 1172.3,180.4C1168.9,180.9 1165.6,181.3 1162.3,181.8C1158.9,182.2 1155.6,182.7 1152.3,183.1C1148.9,183.5 1145.6,184.0 1142.3,184.4C1138.9,184.8 1135.6,185.2 1132.2,185.6C1128.9,186.0 1125.6,186.4 1122.2,186.8C1118.9,187.2 1115.5,187.6 1112.2,188.0C1108.9,188.4 1105.5,188.8 1102.2,189.2C1098.8,189.6 1095.5,189.9 1092.1,190.3C1088.8,190.7 1085.5,191.1 1082.1,191.4C1078.8,191.8 1075.4,192.2 1072.1,192.6C1068.7,192.9 1065.4,193.3 1062.0,193.7C1058.7,194.0 1055.4,194.4 1052.0,194.8C1048.7,195.2 1045.3,195.5 1042.0,195.9C1038.6,196.3 1035.3,196.6 1032.0,197.0C1028.6,197.4 1025.3,197.8 1021.9,198.2C1018.6,198.5 1015.2,198.9 1011.9,199.3C1008.6,199.7 1005.2,200.1 1001.9,200.5C998.5,200.9 995.2,201.3 991.9,201.7C988.5,202.1 985.2,202.5 981.8,202.9C978.5,203.3 975.2,203.8 971.8,204.2C968.5,204.6 965.1,205.1 961.8,205.5C958.5,206.0 955.1,206.4 951.8,206.9C948.5,207.3 945.1,207.8 941.8,208.3C938.5,208.7 935.2,209.2 931.8,209.7C928.5,210.2 925.2,210.7 921.8,211.2C918.5,211.7 915.2,212.3 911.9,212.8C908.6,213.3 905.2,213.9 901.9,214.4C898.6,215.0 895.3,215.6 892.0,216.2C888.7,216.7 885.3,217.3 882.0,218.0C878.7,218.6 875.4,219.2 872.1,219.8C868.8,220.5 865.5,221.1 862.2,221.8C858.9,222.4 855.6,223.1 852.3,223.8C849.0,224.5 845.8,225.2 842.5,226.0C839.2,226.7 835.9,227.4 832.6,228.2C829.3,229.0 826.1,229.8 822.8,230.5C819.5,231.3 816.3,232.2 813.0,233.0C809.8,233.8 806.5,234.7 803.3,235.6C800.0,236.4 796.8,237.3 793.5,238.2C790.3,239.2 787.1,240.1 783.8,241.0C780.6,242.0 777.4,243.0 774.2,244.0C771.0,245.0 767.7,246.0 764.5,247.0C761.3,248.0 758.2,249.1 755.0,250.2C751.8,251.3 748.6,252.4 745.4,253.5C742.3,254.6 739.1,255.8 735.9,256.9C732.8,258.1 729.6,259.3 726.5,260.5C723.4,261.7 720.2,262.9 717.1,264.2C714.0,265.4 710.9,266.7 707.8,268.0C704.7,269.3 701.6,270.6 698.5,272.0C695.4,273.3 692.3,274.7 689.2,276.0C686.2,277.4 683.1,278.8 680.1,280.2C677.0,281.7 674.0,283.1 670.9,284.6C667.9,286.1 664.9,287.5 661.9,289.1C658.9,290.6 655.9,292.1 652.9,293.6C649.9,295.2 647.0,296.8 644.0,298.4"/>
<polygon class="a" points="641.94,294.17 632.00,304.20 646.03,302.56"/>
<path class="e" d="M1212.2,176.2C1208.9,176.9 1205.5,177.6 1202.2,178.2C1198.9,178.9 1195.5,179.5 1192.2,180.1C1188.8,180.7 1185.5,181.3 1182.1,181.8C1178.8,182.4 1175.4,182.9 1172.1,183.5C1168.7,184.0 1165.4,184.5 1162.0,185.0C1158.6,185.6 1155.3,186.1 1151.9,186.6C1148.6,187.1 1145.2,187.6 1141.8,188.2C1138.5,188.7 1135.1,189.2 1131.8,189.8C1128.4,190.3 1125.1,190.9 1121.7,191.4C1118.4,192.0 1115.0,192.6 1111.7,193.2C1108.3,193.8 1105.0,194.4 1101.7,195.1C1098.3,195.8 1095.0,196.4 1091.7,197.2C1088.3,197.9 1085.0,198.6 1081.7,199.4C1078.4,200.2 1075.1,201.0 1071.8,201.9C1068.5,202.7 1065.3,203.6 1062.0,204.6C1058.7,205.5 1055.5,206.5 1052.3,207.6C1049.0,208.6 1045.8,209.8 1042.6,211.0C1039.4,212.2 1036.3,213.4 1033.2,214.8C1030.1,216.1 1027.0,217.6 1024.0,219.1C1020.9,220.7 1017.9,222.3 1015.1,224.1C1012.1,225.8 1009.3,227.7 1006.6,229.7C1003.8,231.7 1001.2,233.8 998.6,236.1C996.0,238.3 993.5,240.6 991.1,243.0C988.7,245.4 986.4,247.9 984.2,250.5C981.9,253.0 979.8,255.7 977.7,258.4C975.7,261.1 973.7,263.8 971.8,266.6C969.9,269.4 968.0,272.3 966.3,275.2C964.5,278.1 962.8,281.1 961.2,284.0C959.5,287.0 958.0,290.1 956.5,293.1"/>
<polygon class="a" points="952.61,290.52 949.10,304.20 960.38,295.69"/>
<path class="e" d="M1399.3,255.5C1395.9,256.6 1392.5,257.6 1389.1,258.7C1385.8,259.8 1382.4,260.9 1379.0,262.1C1375.6,263.2 1372.3,264.3 1368.9,265.5C1365.5,266.6 1362.2,267.8 1358.8,269.0C1355.5,270.2 1352.1,271.3 1348.8,272.6C1345.4,273.8 1342.1,275.0 1338.8,276.2C1335.4,277.5 1332.1,278.7 1328.8,280.0C1325.4,281.2 1322.1,282.5 1318.8,283.8C1315.5,285.1 1312.2,286.4 1308.9,287.7C1305.6,289.0 1302.3,290.4 1299.0,291.7C1295.7,293.0 1292.4,294.4 1289.1,295.8C1285.9,297.1 1282.6,298.5 1279.3,299.9"/>
<polygon class="a" points="1277.61,295.59 1266.90,304.80 1281.02,304.28"/>
<path class="e" d="M1398.6,252.9C1395.3,253.7 1392.0,254.5 1388.7,255.3C1385.4,256.0 1382.1,256.8 1378.7,257.6C1375.4,258.3 1372.1,259.0 1368.8,259.8C1365.5,260.5 1362.1,261.2 1358.8,261.9C1355.5,262.6 1352.2,263.3 1348.8,264.0C1345.5,264.7 1342.2,265.4 1338.8,266.1C1335.5,266.7 1332.2,267.4 1328.8,268.0C1325.5,268.7 1322.1,269.3 1318.8,270.0C1315.5,270.6 1312.1,271.2 1308.8,271.8C1305.4,272.4 1302.1,273.0 1298.7,273.6C1295.4,274.2 1292.0,274.8 1288.7,275.4C1285.3,275.9 1282.0,276.5 1278.6,277.1C1275.3,277.6 1271.9,278.2 1268.6,278.7C1265.2,279.3 1261.8,279.8 1258.5,280.3C1255.1,280.8 1251.8,281.4 1248.4,281.9C1245.0,282.4 1241.7,282.9 1238.3,283.4C1235.0,283.9 1231.6,284.4 1228.2,284.9C1224.9,285.4 1221.5,285.8 1218.1,286.3C1214.8,286.8 1211.4,287.2 1208.0,287.7C1204.7,288.2 1201.3,288.6 1197.9,289.1C1194.5,289.5 1191.2,289.9 1187.8,290.4C1184.4,290.8 1181.1,291.2 1177.7,291.7C1174.3,292.1 1170.9,292.5 1167.6,292.9C1164.2,293.4 1160.8,293.8 1157.4,294.2C1154.1,294.6 1150.7,295.0 1147.3,295.4C1143.9,295.8 1140.6,296.2 1137.2,296.6C1133.8,297.0 1130.4,297.3 1127.0,297.7C1123.7,298.1 1120.3,298.5 1116.9,298.9C1113.5,299.2 1110.1,299.6 1106.8,300.0C1103.4,300.4 1100.0,300.7 1096.6,301.1C1093.2,301.5 1089.9,301.8 1086.5,302.2C1083.1,302.5 1079.7,302.9 1076.3,303.3C1073.0,303.6 1069.6,304.0 1066.2,304.3C1062.8,304.7 1059.4,305.0 1056.0,305.4C1052.7,305.7 1049.3,306.1 1045.9,306.4C1042.5,306.8 1039.1,307.1 1035.8,307.5C1032.4,307.8 1029.0,308.2 1025.6,308.5C1022.2,308.9 1018.8,309.2 1015.5,309.6C1012.1,309.9 1008.7,310.3 1005.3,310.6C1001.9,311.0 998.5,311.3 995.2,311.7"/>
<polygon class="a" points="994.70,307.01 981.90,313.00 995.64,316.30"/>
</svg>
</body></html>
